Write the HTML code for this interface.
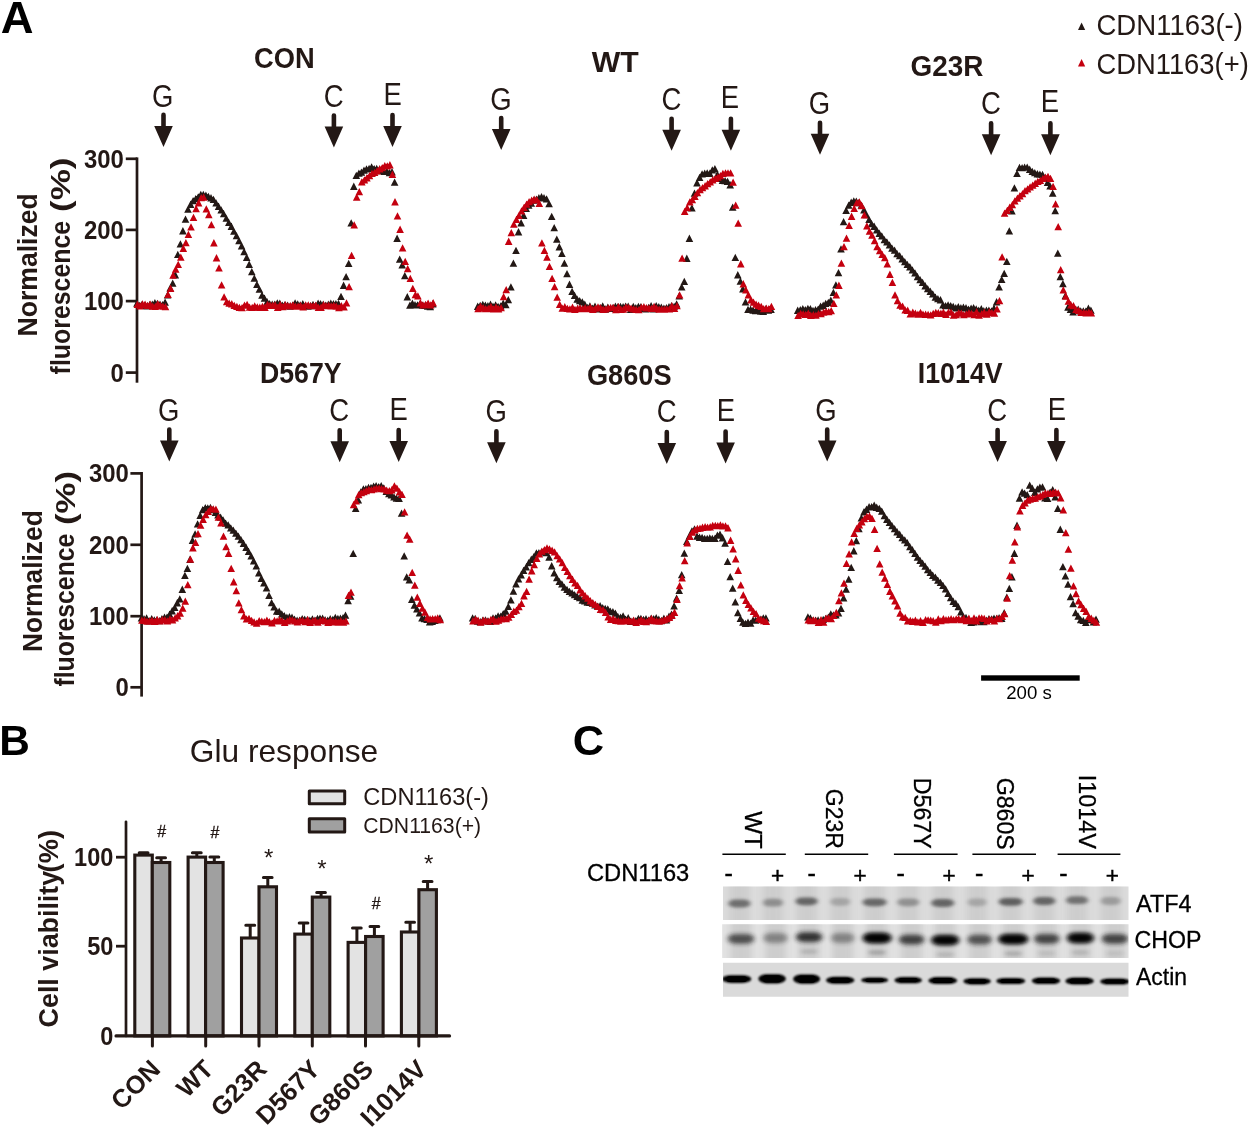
<!DOCTYPE html>
<html lang="en"><head><meta charset="utf-8"><title>Figure</title>
<style>html,body{margin:0;padding:0;background:#fff}svg{display:block}text{font-family:"Liberation Sans",Arial,Helvetica,sans-serif}</style></head><body>
<svg width="1250" height="1128" viewBox="0 0 1250 1128" fill="#231815">
<!-- figure -->
<rect width="1250" height="1128" fill="#fff"/>
<text x="0.8" y="33.3" font-size="44.5" font-weight="bold" textLength="32.8" lengthAdjust="spacingAndGlyphs" fill="#000">A</text>
<text x="-0.8" y="754.8" font-size="43" font-weight="bold" textLength="30.6" lengthAdjust="spacingAndGlyphs" fill="#000">B</text>
<text x="572.8" y="754.6" font-size="43" font-weight="bold" textLength="31.4" lengthAdjust="spacingAndGlyphs" fill="#000">C</text>
<g id="panelA">
<path d="M137 157.4V382.7" stroke="#231815" stroke-width="2.7" fill="none"/>
<path d="M125.8 158.8H137" stroke="#231815" stroke-width="2.7" fill="none"/>
<text x="123.9" y="167.7" font-size="26" font-weight="bold" text-anchor="end" textLength="39.9" lengthAdjust="spacingAndGlyphs">300</text>
<path d="M125.8 229.9H137" stroke="#231815" stroke-width="2.7" fill="none"/>
<text x="123.9" y="238.8" font-size="26" font-weight="bold" text-anchor="end" textLength="39.9" lengthAdjust="spacingAndGlyphs">200</text>
<path d="M125.8 301.1H137" stroke="#231815" stroke-width="2.7" fill="none"/>
<text x="123.9" y="310" font-size="26" font-weight="bold" text-anchor="end" textLength="39.9" lengthAdjust="spacingAndGlyphs">100</text>
<path d="M125.8 372.6H137" stroke="#231815" stroke-width="2.7" fill="none"/>
<text x="123.9" y="381.5" font-size="26" font-weight="bold" text-anchor="end" textLength="13.3" lengthAdjust="spacingAndGlyphs">0</text>
<path d="M141.6 472V696.6" stroke="#231815" stroke-width="2.7" fill="none"/>
<path d="M130.4 473.4H141.6" stroke="#231815" stroke-width="2.7" fill="none"/>
<text x="128.9" y="482.3" font-size="26" font-weight="bold" text-anchor="end" textLength="39.9" lengthAdjust="spacingAndGlyphs">300</text>
<path d="M130.4 544.8H141.6" stroke="#231815" stroke-width="2.7" fill="none"/>
<text x="128.9" y="553.7" font-size="26" font-weight="bold" text-anchor="end" textLength="39.9" lengthAdjust="spacingAndGlyphs">200</text>
<path d="M130.4 616.2H141.6" stroke="#231815" stroke-width="2.7" fill="none"/>
<text x="128.9" y="625.1" font-size="26" font-weight="bold" text-anchor="end" textLength="39.9" lengthAdjust="spacingAndGlyphs">100</text>
<path d="M130.4 687.3H141.6" stroke="#231815" stroke-width="2.7" fill="none"/>
<text x="128.9" y="696.2" font-size="26" font-weight="bold" text-anchor="end" textLength="13.3" lengthAdjust="spacingAndGlyphs">0</text>
<text x="37.2" y="264.9" font-size="27.5" font-weight="bold" text-anchor="middle" textLength="143.2" lengthAdjust="spacingAndGlyphs" transform="rotate(-90 37.2 264.9)">Normalized</text>
<text x="69.6" y="374.4" font-size="27.5" font-weight="bold" textLength="153.6" lengthAdjust="spacingAndGlyphs" transform="rotate(-90 69.6 374.4)">fluorescence</text>
<text x="69.6" y="212" font-size="27.5" font-weight="bold" textLength="54.5" lengthAdjust="spacingAndGlyphs" transform="rotate(-90 69.6 212)">(%)</text>
<text x="41.6" y="581.2" font-size="27.5" font-weight="bold" text-anchor="middle" textLength="141.8" lengthAdjust="spacingAndGlyphs" transform="rotate(-90 41.6 581.2)">Normalized</text>
<text x="74.5" y="686.6" font-size="27.5" font-weight="bold" textLength="153" lengthAdjust="spacingAndGlyphs" transform="rotate(-90 74.5 686.6)">fluorescence</text>
<text x="74.5" y="525" font-size="27.5" font-weight="bold" textLength="54" lengthAdjust="spacingAndGlyphs" transform="rotate(-90 74.5 525)">(%)</text>
<text x="284.4" y="68" font-size="29" font-weight="bold" text-anchor="middle" textLength="60.7" lengthAdjust="spacingAndGlyphs">CON</text>
<text x="615.2" y="71.6" font-size="29" font-weight="bold" text-anchor="middle" textLength="47" lengthAdjust="spacingAndGlyphs">WT</text>
<text x="947" y="76.2" font-size="29" font-weight="bold" text-anchor="middle" textLength="72.9" lengthAdjust="spacingAndGlyphs">G23R</text>
<text x="300.8" y="383" font-size="29" font-weight="bold" text-anchor="middle" textLength="81.6" lengthAdjust="spacingAndGlyphs">D567Y</text>
<text x="629.3" y="384.8" font-size="29" font-weight="bold" text-anchor="middle" textLength="84.7" lengthAdjust="spacingAndGlyphs">G860S</text>
<text x="960.2" y="383" font-size="29" font-weight="bold" text-anchor="middle" textLength="84.9" lengthAdjust="spacingAndGlyphs">I1014V</text>
<text x="162.8" y="106.6" font-size="30.5" text-anchor="middle" textLength="21.4" lengthAdjust="spacingAndGlyphs">G</text>
<path d="M161.2 114.9a2.3 2.3 0 0 1 4.6 0V125.9H172.8L163.5 146.9L154.2 125.9H161.2Z" fill="#231815"/>
<text x="333.8" y="106.6" font-size="30.5" text-anchor="middle" textLength="19.9" lengthAdjust="spacingAndGlyphs">C</text>
<path d="M331.6 115.6a2.3 2.3 0 0 1 4.6 0V126.6H343.2L333.9 147.6L324.6 126.6H331.6Z" fill="#231815"/>
<text x="392.6" y="104.5" font-size="30.5" text-anchor="middle" textLength="18.3" lengthAdjust="spacingAndGlyphs">E</text>
<path d="M390.2 115.1a2.3 2.3 0 0 1 4.6 0V126.1H401.8L392.5 147.1L383.2 126.1H390.2Z" fill="#231815"/>
<text x="501" y="109.6" font-size="30.5" text-anchor="middle" textLength="21.4" lengthAdjust="spacingAndGlyphs">G</text>
<path d="M498.9 118a2.3 2.3 0 0 1 4.6 0V129H510.5L501.2 150L491.9 129H498.9Z" fill="#231815"/>
<text x="671.4" y="109.6" font-size="30.5" text-anchor="middle" textLength="19.9" lengthAdjust="spacingAndGlyphs">C</text>
<path d="M669.3 118.7a2.3 2.3 0 0 1 4.6 0V129.7H680.9L671.6 150.7L662.3 129.7H669.3Z" fill="#231815"/>
<text x="729.9" y="107.9" font-size="30.5" text-anchor="middle" textLength="18.3" lengthAdjust="spacingAndGlyphs">E</text>
<path d="M728.6 118.7a2.3 2.3 0 0 1 4.6 0V129.7H740.2L730.9 150.7L721.6 129.7H728.6Z" fill="#231815"/>
<text x="819.4" y="113.8" font-size="30.5" text-anchor="middle" textLength="21.4" lengthAdjust="spacingAndGlyphs">G</text>
<path d="M817.7 122.8a2.3 2.3 0 0 1 4.6 0V133.8H829.3L820 154.8L810.7 133.8H817.7Z" fill="#231815"/>
<text x="991" y="113.8" font-size="30.5" text-anchor="middle" textLength="19.9" lengthAdjust="spacingAndGlyphs">C</text>
<path d="M988.8 123.3a2.3 2.3 0 0 1 4.6 0V134.3H1000.4L991.1 155.3L981.8 134.3H988.8Z" fill="#231815"/>
<text x="1049.8" y="112.2" font-size="30.5" text-anchor="middle" textLength="18.3" lengthAdjust="spacingAndGlyphs">E</text>
<path d="M1048.1 123.3a2.3 2.3 0 0 1 4.6 0V134.3H1059.7L1050.4 155.3L1041.1 134.3H1048.1Z" fill="#231815"/>
<text x="168.6" y="421.1" font-size="30.5" text-anchor="middle" textLength="21.4" lengthAdjust="spacingAndGlyphs">G</text>
<path d="M167 429.6a2.3 2.3 0 0 1 4.6 0V440.6H178.6L169.3 461.6L160 440.6H167Z" fill="#231815"/>
<text x="339.2" y="421.1" font-size="30.5" text-anchor="middle" textLength="19.9" lengthAdjust="spacingAndGlyphs">C</text>
<path d="M337.4 430.3a2.3 2.3 0 0 1 4.6 0V441.3H349L339.7 462.3L330.4 441.3H337.4Z" fill="#231815"/>
<text x="398.6" y="419.7" font-size="30.5" text-anchor="middle" textLength="18.3" lengthAdjust="spacingAndGlyphs">E</text>
<path d="M396.4 430.1a2.3 2.3 0 0 1 4.6 0V441.1H408L398.7 462.1L389.4 441.1H396.4Z" fill="#231815"/>
<text x="496.2" y="422.4" font-size="30.5" text-anchor="middle" textLength="21.4" lengthAdjust="spacingAndGlyphs">G</text>
<path d="M494.1 431.3a2.3 2.3 0 0 1 4.6 0V442.3H505.7L496.4 463.3L487.1 442.3H494.1Z" fill="#231815"/>
<text x="666.8" y="422.4" font-size="30.5" text-anchor="middle" textLength="19.9" lengthAdjust="spacingAndGlyphs">C</text>
<path d="M664.5 432a2.3 2.3 0 0 1 4.6 0V443H676.1L666.8 464L657.5 443H664.5Z" fill="#231815"/>
<text x="725.9" y="421.4" font-size="30.5" text-anchor="middle" textLength="18.3" lengthAdjust="spacingAndGlyphs">E</text>
<path d="M723.3 431.5a2.3 2.3 0 0 1 4.6 0V442.5H734.9L725.6 463.5L716.3 442.5H723.3Z" fill="#231815"/>
<text x="826" y="420.6" font-size="30.5" text-anchor="middle" textLength="21.4" lengthAdjust="spacingAndGlyphs">G</text>
<path d="M824.9 429.6a2.3 2.3 0 0 1 4.6 0V440.6H836.5L827.2 461.6L817.9 440.6H824.9Z" fill="#231815"/>
<text x="997.3" y="420.6" font-size="30.5" text-anchor="middle" textLength="19.9" lengthAdjust="spacingAndGlyphs">C</text>
<path d="M995.3 430.1a2.3 2.3 0 0 1 4.6 0V441.1H1006.9L997.6 462.1L988.3 441.1H995.3Z" fill="#231815"/>
<text x="1056.9" y="419.5" font-size="30.5" text-anchor="middle" textLength="18.3" lengthAdjust="spacingAndGlyphs">E</text>
<path d="M1054.1 430.1a2.3 2.3 0 0 1 4.6 0V441.1H1065.7L1056.4 462.1L1047.1 441.1H1054.1Z" fill="#231815"/>
<path d="M133.2 306.7h7.6l-3.8 -7.3zM135.8 309h7.6l-3.8 -7.3zM138.3 307.8h7.6l-3.8 -7.3zM140.9 308.7h7.6l-3.8 -7.3zM143.4 309.5h7.6l-3.8 -7.3zM146 308h7.6l-3.8 -7.3zM148.5 307.8h7.6l-3.8 -7.3zM151.1 306.3h7.6l-3.8 -7.3zM153.6 307h7.6l-3.8 -7.3zM156.2 307.7h7.6l-3.8 -7.3zM158.7 308.3h7.6l-3.8 -7.3zM161.3 305.7h7.6l-3.8 -7.3zM163.8 298.5h7.6l-3.8 -7.3zM166.4 291.6h7.6l-3.8 -7.3zM168.9 286.7h7.6l-3.8 -7.3zM171.5 278.4h7.6l-3.8 -7.3zM174 258.1h7.6l-3.8 -7.3zM176.6 247.5h7.6l-3.8 -7.3zM179.1 234.4h7.6l-3.8 -7.3zM181.7 222.7h7.6l-3.8 -7.3zM184.2 212.7h7.6l-3.8 -7.3zM186.8 207.9h7.6l-3.8 -7.3zM189.3 204.2h7.6l-3.8 -7.3zM191.9 202.3h7.6l-3.8 -7.3zM194.4 200.6h7.6l-3.8 -7.3zM197 198h7.6l-3.8 -7.3zM199.5 198h7.6l-3.8 -7.3zM202.1 198.9h7.6l-3.8 -7.3zM204.6 200h7.6l-3.8 -7.3zM207.2 201.4h7.6l-3.8 -7.3zM209.7 203.1h7.6l-3.8 -7.3zM212.3 206.5h7.6l-3.8 -7.3zM214.8 209.9h7.6l-3.8 -7.3zM217.4 213.6h7.6l-3.8 -7.3zM219.9 217.3h7.6l-3.8 -7.3zM222.5 221.8h7.6l-3.8 -7.3zM225 226h7.6l-3.8 -7.3zM227.6 229.9h7.6l-3.8 -7.3zM230.1 234.7h7.6l-3.8 -7.3zM232.7 239.2h7.6l-3.8 -7.3zM235.2 244.3h7.6l-3.8 -7.3zM237.8 249.4h7.6l-3.8 -7.3zM240.3 255.2h7.6l-3.8 -7.3zM242.9 260.9h7.6l-3.8 -7.3zM245.4 267.9h7.6l-3.8 -7.3zM248 275.3h7.6l-3.8 -7.3zM250.5 281.8h7.6l-3.8 -7.3zM253.1 288.1h7.6l-3.8 -7.3zM255.6 292.8h7.6l-3.8 -7.3zM258.2 298.8h7.6l-3.8 -7.3zM260.7 301.8h7.6l-3.8 -7.3zM263.3 305.2h7.6l-3.8 -7.3zM265.8 307.3h7.6l-3.8 -7.3zM268.4 307.8h7.6l-3.8 -7.3zM270.9 307.9h7.6l-3.8 -7.3zM273.5 306.5h7.6l-3.8 -7.3zM276 306.8h7.6l-3.8 -7.3zM278.6 308.9h7.6l-3.8 -7.3zM281.1 308.2h7.6l-3.8 -7.3zM283.7 308.8h7.6l-3.8 -7.3zM286.2 309.7h7.6l-3.8 -7.3zM288.8 308.8h7.6l-3.8 -7.3zM291.3 306.6h7.6l-3.8 -7.3zM293.9 307.5h7.6l-3.8 -7.3zM296.4 308.5h7.6l-3.8 -7.3zM299 307.2h7.6l-3.8 -7.3zM301.5 309.7h7.6l-3.8 -7.3zM304.1 309.7h7.6l-3.8 -7.3zM306.6 309.3h7.6l-3.8 -7.3zM309.2 308h7.6l-3.8 -7.3zM311.7 309.3h7.6l-3.8 -7.3zM314.3 306.8h7.6l-3.8 -7.3zM316.8 307.4h7.6l-3.8 -7.3zM319.4 307.9h7.6l-3.8 -7.3zM321.9 308.8h7.6l-3.8 -7.3zM324.5 307.9h7.6l-3.8 -7.3zM327 306.7h7.6l-3.8 -7.3zM329.6 307.3h7.6l-3.8 -7.3zM332.1 307.2h7.6l-3.8 -7.3zM334.7 307h7.6l-3.8 -7.3zM337.2 300h7.6l-3.8 -7.3zM339.8 288.9h7.6l-3.8 -7.3zM342.3 280.3h7.6l-3.8 -7.3zM344.9 267.1h7.6l-3.8 -7.3zM347.4 226.6h7.6l-3.8 -7.3zM350 189.9h7.6l-3.8 -7.3zM352.5 179h7.6l-3.8 -7.3zM355.1 176.8h7.6l-3.8 -7.3zM357.6 175.7h7.6l-3.8 -7.3zM360.2 173.8h7.6l-3.8 -7.3zM362.7 172.6h7.6l-3.8 -7.3zM365.3 172h7.6l-3.8 -7.3zM367.8 170.5h7.6l-3.8 -7.3zM370.4 172.2h7.6l-3.8 -7.3zM372.9 172h7.6l-3.8 -7.3zM375.5 173.2h7.6l-3.8 -7.3zM378 174.3h7.6l-3.8 -7.3zM380.6 175h7.6l-3.8 -7.3zM383.1 174.9h7.6l-3.8 -7.3zM385.7 176.3h7.6l-3.8 -7.3zM388.2 175.4h7.6l-3.8 -7.3zM390.8 185.7h7.6l-3.8 -7.3zM393.3 241.9h7.6l-3.8 -7.3zM395.9 262.7h7.6l-3.8 -7.3zM398.4 268.5h7.6l-3.8 -7.3zM401 279.3h7.6l-3.8 -7.3zM403.5 300.4h7.6l-3.8 -7.3zM406.1 308.7h7.6l-3.8 -7.3zM408.6 306.8h7.6l-3.8 -7.3zM411.2 308.4h7.6l-3.8 -7.3zM413.7 308.5h7.6l-3.8 -7.3zM416.3 307.1h7.6l-3.8 -7.3zM418.8 308.8h7.6l-3.8 -7.3zM421.4 309h7.6l-3.8 -7.3zM423.9 309.8h7.6l-3.8 -7.3zM426.5 310.2h7.6l-3.8 -7.3zM429 307.4h7.6l-3.8 -7.3z" fill="#231815"/>
<path d="M133.6 307.9h7.6l-3.8 -7.3zM136.2 309.4h7.6l-3.8 -7.3zM138.7 307.6h7.6l-3.8 -7.3zM141.3 307.9h7.6l-3.8 -7.3zM143.8 309.1h7.6l-3.8 -7.3zM146.4 307.7h7.6l-3.8 -7.3zM148.9 309.8h7.6l-3.8 -7.3zM151.5 310.1h7.6l-3.8 -7.3zM154 307.2h7.6l-3.8 -7.3zM156.6 308.9h7.6l-3.8 -7.3zM159.1 309.7h7.6l-3.8 -7.3zM161.7 310.3h7.6l-3.8 -7.3zM164.2 298.1h7.6l-3.8 -7.3zM166.8 291.9h7.6l-3.8 -7.3zM169.3 278.8h7.6l-3.8 -7.3zM171.9 272.7h7.6l-3.8 -7.3zM174.4 268.1h7.6l-3.8 -7.3zM177 260.8h7.6l-3.8 -7.3zM179.5 251.9h7.6l-3.8 -7.3zM182.1 246.3h7.6l-3.8 -7.3zM184.6 238h7.6l-3.8 -7.3zM187.2 230.6h7.6l-3.8 -7.3zM189.7 221h7.6l-3.8 -7.3zM192.3 212.2h7.6l-3.8 -7.3zM194.8 206.4h7.6l-3.8 -7.3zM197.4 201.3h7.6l-3.8 -7.3zM199.9 200.8h7.6l-3.8 -7.3zM202.5 212.6h7.6l-3.8 -7.3zM205 218.2h7.6l-3.8 -7.3zM207.6 228.3h7.6l-3.8 -7.3zM210.1 246.4h7.6l-3.8 -7.3zM212.7 261.4h7.6l-3.8 -7.3zM215.2 271.6h7.6l-3.8 -7.3zM217.8 288.6h7.6l-3.8 -7.3zM220.3 300.6h7.6l-3.8 -7.3zM222.9 305.2h7.6l-3.8 -7.3zM225.4 306.8h7.6l-3.8 -7.3zM228 307.4h7.6l-3.8 -7.3zM230.5 309h7.6l-3.8 -7.3zM233.1 310h7.6l-3.8 -7.3zM235.6 311.1h7.6l-3.8 -7.3zM238.2 311.3h7.6l-3.8 -7.3zM240.7 308.8h7.6l-3.8 -7.3zM243.3 308h7.6l-3.8 -7.3zM245.8 310.8h7.6l-3.8 -7.3zM248.4 311.1h7.6l-3.8 -7.3zM250.9 309.5h7.6l-3.8 -7.3zM253.5 310.6h7.6l-3.8 -7.3zM256 310.9h7.6l-3.8 -7.3zM258.6 310h7.6l-3.8 -7.3zM261.1 310.9h7.6l-3.8 -7.3zM263.7 308h7.6l-3.8 -7.3zM266.2 308.9h7.6l-3.8 -7.3zM268.8 308.9h7.6l-3.8 -7.3zM271.3 308.4h7.6l-3.8 -7.3zM273.9 311h7.6l-3.8 -7.3zM276.4 308.1h7.6l-3.8 -7.3zM279 310.2h7.6l-3.8 -7.3zM281.5 308.2h7.6l-3.8 -7.3zM284.1 309.2h7.6l-3.8 -7.3zM286.6 309.4h7.6l-3.8 -7.3zM289.2 308.6h7.6l-3.8 -7.3zM291.7 309.7h7.6l-3.8 -7.3zM294.3 309.8h7.6l-3.8 -7.3zM296.8 309h7.6l-3.8 -7.3zM299.4 310.5h7.6l-3.8 -7.3zM301.9 308.5h7.6l-3.8 -7.3zM304.5 308.6h7.6l-3.8 -7.3zM307 309.2h7.6l-3.8 -7.3zM309.6 309.3h7.6l-3.8 -7.3zM312.1 308.7h7.6l-3.8 -7.3zM314.7 311.1h7.6l-3.8 -7.3zM317.2 310.9h7.6l-3.8 -7.3zM319.8 308.4h7.6l-3.8 -7.3zM322.3 309.3h7.6l-3.8 -7.3zM324.9 308.9h7.6l-3.8 -7.3zM327.4 309.6h7.6l-3.8 -7.3zM330 309.1h7.6l-3.8 -7.3zM332.5 309.8h7.6l-3.8 -7.3zM335.1 311.3h7.6l-3.8 -7.3zM337.6 309.4h7.6l-3.8 -7.3zM340.2 310.4h7.6l-3.8 -7.3zM342.7 306.5h7.6l-3.8 -7.3zM345.3 290.3h7.6l-3.8 -7.3zM347.8 259h7.6l-3.8 -7.3zM350.4 228.5h7.6l-3.8 -7.3zM352.9 200.8h7.6l-3.8 -7.3zM355.5 195.3h7.6l-3.8 -7.3zM358 185.5h7.6l-3.8 -7.3zM360.6 183.5h7.6l-3.8 -7.3zM363.1 181.4h7.6l-3.8 -7.3zM365.7 179.3h7.6l-3.8 -7.3zM368.2 177h7.6l-3.8 -7.3zM370.8 176.1h7.6l-3.8 -7.3zM373.3 174.4h7.6l-3.8 -7.3zM375.9 172.4h7.6l-3.8 -7.3zM378.4 171.3h7.6l-3.8 -7.3zM381 169.2h7.6l-3.8 -7.3zM383.5 169.5h7.6l-3.8 -7.3zM386.1 168.4h7.6l-3.8 -7.3zM388.6 177.9h7.6l-3.8 -7.3zM391.2 205.4h7.6l-3.8 -7.3zM393.7 219.6h7.6l-3.8 -7.3zM396.3 232.9h7.6l-3.8 -7.3zM398.8 251.6h7.6l-3.8 -7.3zM401.4 265h7.6l-3.8 -7.3zM403.9 272.3h7.6l-3.8 -7.3zM406.5 282h7.6l-3.8 -7.3zM409 292.1h7.6l-3.8 -7.3zM411.6 298.3h7.6l-3.8 -7.3zM414.1 299.6h7.6l-3.8 -7.3zM416.7 306.6h7.6l-3.8 -7.3zM419.2 308.6h7.6l-3.8 -7.3zM421.8 308h7.6l-3.8 -7.3zM424.3 306.7h7.6l-3.8 -7.3zM426.9 308.6h7.6l-3.8 -7.3zM429.4 306.4h7.6l-3.8 -7.3z" fill="#c4000f"/>
<path d="M473.9 309.9h7.6l-3.8 -7.3zM476.4 309h7.6l-3.8 -7.3zM479 308h7.6l-3.8 -7.3zM481.6 308.8h7.6l-3.8 -7.3zM484.1 309.2h7.6l-3.8 -7.3zM486.7 307.9h7.6l-3.8 -7.3zM489.2 309.9h7.6l-3.8 -7.3zM491.8 308.5h7.6l-3.8 -7.3zM494.3 310h7.6l-3.8 -7.3zM496.9 309.6h7.6l-3.8 -7.3zM499.4 306.8h7.6l-3.8 -7.3zM502 308.2h7.6l-3.8 -7.3zM504.5 303.3h7.6l-3.8 -7.3zM507.1 290.5h7.6l-3.8 -7.3zM509.6 266.7h7.6l-3.8 -7.3zM512.2 254h7.6l-3.8 -7.3zM514.7 235.4h7.6l-3.8 -7.3zM517.3 226.4h7.6l-3.8 -7.3zM519.8 218.9h7.6l-3.8 -7.3zM522.4 212h7.6l-3.8 -7.3zM524.9 208.7h7.6l-3.8 -7.3zM527.5 206.7h7.6l-3.8 -7.3zM530 203.7h7.6l-3.8 -7.3zM532.6 202.7h7.6l-3.8 -7.3zM535.1 201.3h7.6l-3.8 -7.3zM537.7 200.3h7.6l-3.8 -7.3zM540.2 201.4h7.6l-3.8 -7.3zM542.8 202.6h7.6l-3.8 -7.3zM545.3 207.3h7.6l-3.8 -7.3zM547.9 220h7.6l-3.8 -7.3zM550.4 231.2h7.6l-3.8 -7.3zM553 242.8h7.6l-3.8 -7.3zM555.5 250.4h7.6l-3.8 -7.3zM558.1 257.1h7.6l-3.8 -7.3zM560.6 266.8h7.6l-3.8 -7.3zM563.2 277.3h7.6l-3.8 -7.3zM565.7 287.9h7.6l-3.8 -7.3zM568.3 295h7.6l-3.8 -7.3zM570.8 299.1h7.6l-3.8 -7.3zM573.4 302.7h7.6l-3.8 -7.3zM575.9 304.3h7.6l-3.8 -7.3zM578.5 305.6h7.6l-3.8 -7.3zM581 307.9h7.6l-3.8 -7.3zM583.6 311.1h7.6l-3.8 -7.3zM586.1 309.5h7.6l-3.8 -7.3zM588.7 311.9h7.6l-3.8 -7.3zM591.2 309.8h7.6l-3.8 -7.3zM593.8 312.6h7.6l-3.8 -7.3zM596.3 311.2h7.6l-3.8 -7.3zM598.9 309.6h7.6l-3.8 -7.3zM601.4 312.7h7.6l-3.8 -7.3zM604 310.8h7.6l-3.8 -7.3zM606.5 312.1h7.6l-3.8 -7.3zM609.1 311.4h7.6l-3.8 -7.3zM611.6 309.9h7.6l-3.8 -7.3zM614.2 310h7.6l-3.8 -7.3zM616.7 310.1h7.6l-3.8 -7.3zM619.3 310.2h7.6l-3.8 -7.3zM621.8 309.8h7.6l-3.8 -7.3zM624.4 309.8h7.6l-3.8 -7.3zM626.9 312.9h7.6l-3.8 -7.3zM629.5 310h7.6l-3.8 -7.3zM632 311.3h7.6l-3.8 -7.3zM634.6 310h7.6l-3.8 -7.3zM637.1 310.3h7.6l-3.8 -7.3zM639.7 312.1h7.6l-3.8 -7.3zM642.2 312.6h7.6l-3.8 -7.3zM644.8 311h7.6l-3.8 -7.3zM647.3 309.3h7.6l-3.8 -7.3zM649.9 312.6h7.6l-3.8 -7.3zM652.4 309.3h7.6l-3.8 -7.3zM655 310.3h7.6l-3.8 -7.3zM657.5 310.7h7.6l-3.8 -7.3zM660.1 311.8h7.6l-3.8 -7.3zM662.6 311.4h7.6l-3.8 -7.3zM665.2 310.3h7.6l-3.8 -7.3zM667.7 309.2h7.6l-3.8 -7.3zM670.3 310.1h7.6l-3.8 -7.3zM672.8 307.5h7.6l-3.8 -7.3zM675.4 299.6h7.6l-3.8 -7.3zM677.9 290.6h7.6l-3.8 -7.3zM680.5 285h7.6l-3.8 -7.3zM683 261.9h7.6l-3.8 -7.3zM685.6 241.9h7.6l-3.8 -7.3zM688.1 211.6h7.6l-3.8 -7.3zM690.7 196.7h7.6l-3.8 -7.3zM693.2 186.4h7.6l-3.8 -7.3zM695.8 181h7.6l-3.8 -7.3zM698.3 177.5h7.6l-3.8 -7.3zM700.9 176.9h7.6l-3.8 -7.3zM703.4 176.5h7.6l-3.8 -7.3zM706 176.9h7.6l-3.8 -7.3zM708.5 173.6h7.6l-3.8 -7.3zM711.1 172.2h7.6l-3.8 -7.3zM713.6 178.1h7.6l-3.8 -7.3zM716.2 182.1h7.6l-3.8 -7.3zM718.7 183.9h7.6l-3.8 -7.3zM721.3 184.2h7.6l-3.8 -7.3zM723.8 185.1h7.6l-3.8 -7.3zM726.4 188.4h7.6l-3.8 -7.3zM728.9 210.7h7.6l-3.8 -7.3zM731.5 261.1h7.6l-3.8 -7.3zM734 278.4h7.6l-3.8 -7.3zM736.6 284.8h7.6l-3.8 -7.3zM739.1 292.4h7.6l-3.8 -7.3zM741.7 305.6h7.6l-3.8 -7.3zM744.2 313.1h7.6l-3.8 -7.3zM746.8 312.9h7.6l-3.8 -7.3zM749.3 313.8h7.6l-3.8 -7.3zM751.9 314.2h7.6l-3.8 -7.3zM754.4 312.1h7.6l-3.8 -7.3zM757 314.7h7.6l-3.8 -7.3zM759.5 315h7.6l-3.8 -7.3zM762.1 312.4h7.6l-3.8 -7.3zM764.6 313.8h7.6l-3.8 -7.3zM767.2 312.9h7.6l-3.8 -7.3z" fill="#231815"/>
<path d="M474.3 312.2h7.6l-3.8 -7.3zM476.8 309.7h7.6l-3.8 -7.3zM479.4 311.4h7.6l-3.8 -7.3zM481.9 312.3h7.6l-3.8 -7.3zM484.5 312.1h7.6l-3.8 -7.3zM487.1 310h7.6l-3.8 -7.3zM489.6 312.5h7.6l-3.8 -7.3zM492.2 310.5h7.6l-3.8 -7.3zM494.7 312.4h7.6l-3.8 -7.3zM497.3 311.3h7.6l-3.8 -7.3zM499.8 300.3h7.6l-3.8 -7.3zM502.4 293.2h7.6l-3.8 -7.3zM504.9 244.9h7.6l-3.8 -7.3zM507.5 236.3h7.6l-3.8 -7.3zM510 227.8h7.6l-3.8 -7.3zM512.6 223h7.6l-3.8 -7.3zM515.1 219h7.6l-3.8 -7.3zM517.7 214.6h7.6l-3.8 -7.3zM520.2 211h7.6l-3.8 -7.3zM522.8 207.7h7.6l-3.8 -7.3zM525.3 205.3h7.6l-3.8 -7.3zM527.9 203.7h7.6l-3.8 -7.3zM530.4 202.7h7.6l-3.8 -7.3zM533 203.3h7.6l-3.8 -7.3zM535.5 206.9h7.6l-3.8 -7.3zM538.1 246.6h7.6l-3.8 -7.3zM540.6 254.1h7.6l-3.8 -7.3zM543.2 260.7h7.6l-3.8 -7.3zM545.7 270.1h7.6l-3.8 -7.3zM548.3 282h7.6l-3.8 -7.3zM550.8 290.2h7.6l-3.8 -7.3zM553.4 300.7h7.6l-3.8 -7.3zM555.9 308.1h7.6l-3.8 -7.3zM558.5 311.7h7.6l-3.8 -7.3zM561 310.4h7.6l-3.8 -7.3zM563.6 312h7.6l-3.8 -7.3zM566.1 312.5h7.6l-3.8 -7.3zM568.7 310.9h7.6l-3.8 -7.3zM571.2 313.1h7.6l-3.8 -7.3zM573.8 311.9h7.6l-3.8 -7.3zM576.3 311.5h7.6l-3.8 -7.3zM578.9 312.2h7.6l-3.8 -7.3zM581.4 311.2h7.6l-3.8 -7.3zM584 312.2h7.6l-3.8 -7.3zM586.5 310.7h7.6l-3.8 -7.3zM589.1 313h7.6l-3.8 -7.3zM591.6 311.7h7.6l-3.8 -7.3zM594.2 310.6h7.6l-3.8 -7.3zM596.7 311.3h7.6l-3.8 -7.3zM599.3 312.9h7.6l-3.8 -7.3zM601.8 312.6h7.6l-3.8 -7.3zM604.4 311.5h7.6l-3.8 -7.3zM606.9 311h7.6l-3.8 -7.3zM609.5 311.1h7.6l-3.8 -7.3zM612 313.2h7.6l-3.8 -7.3zM614.6 310.2h7.6l-3.8 -7.3zM617.1 312.9h7.6l-3.8 -7.3zM619.7 312.8h7.6l-3.8 -7.3zM622.2 310.6h7.6l-3.8 -7.3zM624.8 311h7.6l-3.8 -7.3zM627.3 311.8h7.6l-3.8 -7.3zM629.9 312.6h7.6l-3.8 -7.3zM632.4 313.1h7.6l-3.8 -7.3zM635 313.2h7.6l-3.8 -7.3zM637.5 310.8h7.6l-3.8 -7.3zM640.1 310.4h7.6l-3.8 -7.3zM642.6 311.4h7.6l-3.8 -7.3zM645.2 311.6h7.6l-3.8 -7.3zM647.7 312h7.6l-3.8 -7.3zM650.3 310.1h7.6l-3.8 -7.3zM652.8 311.9h7.6l-3.8 -7.3zM655.4 312.8h7.6l-3.8 -7.3zM657.9 312.7h7.6l-3.8 -7.3zM660.5 312.8h7.6l-3.8 -7.3zM663 312.6h7.6l-3.8 -7.3zM665.6 312.6h7.6l-3.8 -7.3zM668.1 309.3h7.6l-3.8 -7.3zM670.7 312h7.6l-3.8 -7.3zM673.2 309.3h7.6l-3.8 -7.3zM675.8 298.5h7.6l-3.8 -7.3zM678.3 261.8h7.6l-3.8 -7.3zM680.9 215h7.6l-3.8 -7.3zM683.4 211.2h7.6l-3.8 -7.3zM686 205.6h7.6l-3.8 -7.3zM688.5 203.3h7.6l-3.8 -7.3zM691.1 200.1h7.6l-3.8 -7.3zM693.6 196.3h7.6l-3.8 -7.3zM696.2 193.3h7.6l-3.8 -7.3zM698.7 191.3h7.6l-3.8 -7.3zM701.3 189.4h7.6l-3.8 -7.3zM703.8 187.2h7.6l-3.8 -7.3zM706.4 185.6h7.6l-3.8 -7.3zM708.9 183.4h7.6l-3.8 -7.3zM711.5 182h7.6l-3.8 -7.3zM714 180.7h7.6l-3.8 -7.3zM716.6 179.2h7.6l-3.8 -7.3zM719.1 177h7.6l-3.8 -7.3zM721.7 176.6h7.6l-3.8 -7.3zM724.2 176.5h7.6l-3.8 -7.3zM726.8 176.6h7.6l-3.8 -7.3zM729.3 185.8h7.6l-3.8 -7.3zM731.9 208.8h7.6l-3.8 -7.3zM734.4 226.7h7.6l-3.8 -7.3zM737 267.4h7.6l-3.8 -7.3zM739.5 287.4h7.6l-3.8 -7.3zM742.1 293.6h7.6l-3.8 -7.3zM744.6 298.4h7.6l-3.8 -7.3zM747.2 303.4h7.6l-3.8 -7.3zM749.7 305.7h7.6l-3.8 -7.3zM752.3 307.8h7.6l-3.8 -7.3zM754.8 308.9h7.6l-3.8 -7.3zM757.4 310h7.6l-3.8 -7.3zM759.9 312.2h7.6l-3.8 -7.3zM762.5 311.9h7.6l-3.8 -7.3zM765 312.3h7.6l-3.8 -7.3zM767.6 310.1h7.6l-3.8 -7.3z" fill="#c4000f"/>
<path d="M793.9 313.9h7.6l-3.8 -7.3zM796.5 313.4h7.6l-3.8 -7.3zM799 312.3h7.6l-3.8 -7.3zM801.5 313.3h7.6l-3.8 -7.3zM804.1 312h7.6l-3.8 -7.3zM806.6 312.3h7.6l-3.8 -7.3zM809.2 314h7.6l-3.8 -7.3zM811.7 313.3h7.6l-3.8 -7.3zM814.3 312.8h7.6l-3.8 -7.3zM816.8 309.8h7.6l-3.8 -7.3zM819.4 308.9h7.6l-3.8 -7.3zM821.9 307.1h7.6l-3.8 -7.3zM824.5 306.1h7.6l-3.8 -7.3zM827 303.8h7.6l-3.8 -7.3zM829.6 296.1h7.6l-3.8 -7.3zM832.1 288.5h7.6l-3.8 -7.3zM834.7 276.3h7.6l-3.8 -7.3zM837.2 252.6h7.6l-3.8 -7.3zM839.8 225.3h7.6l-3.8 -7.3zM842.3 214.1h7.6l-3.8 -7.3zM844.9 208.7h7.6l-3.8 -7.3zM847.4 205.9h7.6l-3.8 -7.3zM850 204.5h7.6l-3.8 -7.3zM852.5 204.7h7.6l-3.8 -7.3zM855.1 206.2h7.6l-3.8 -7.3zM857.6 208.7h7.6l-3.8 -7.3zM860.2 213.4h7.6l-3.8 -7.3zM862.7 218.3h7.6l-3.8 -7.3zM865.3 223h7.6l-3.8 -7.3zM867.8 227.2h7.6l-3.8 -7.3zM870.4 229.9h7.6l-3.8 -7.3zM872.9 233.6h7.6l-3.8 -7.3zM875.5 236.9h7.6l-3.8 -7.3zM878 239.6h7.6l-3.8 -7.3zM880.6 243.2h7.6l-3.8 -7.3zM883.1 245.6h7.6l-3.8 -7.3zM885.7 248.5h7.6l-3.8 -7.3zM888.2 251.8h7.6l-3.8 -7.3zM890.8 253.7h7.6l-3.8 -7.3zM893.3 257.3h7.6l-3.8 -7.3zM895.9 259.3h7.6l-3.8 -7.3zM898.4 262.4h7.6l-3.8 -7.3zM901 265.3h7.6l-3.8 -7.3zM903.5 268h7.6l-3.8 -7.3zM906.1 270.4h7.6l-3.8 -7.3zM908.6 273.5h7.6l-3.8 -7.3zM911.2 276.6h7.6l-3.8 -7.3zM913.7 280.2h7.6l-3.8 -7.3zM916.3 283.3h7.6l-3.8 -7.3zM918.8 286h7.6l-3.8 -7.3zM921.4 289.4h7.6l-3.8 -7.3zM923.9 292.3h7.6l-3.8 -7.3zM926.5 294.9h7.6l-3.8 -7.3zM929 297.6h7.6l-3.8 -7.3zM931.6 300.7h7.6l-3.8 -7.3zM934.1 302.3h7.6l-3.8 -7.3zM936.7 303.4h7.6l-3.8 -7.3zM939.2 308.4h7.6l-3.8 -7.3zM941.8 309.2h7.6l-3.8 -7.3zM944.3 308.5h7.6l-3.8 -7.3zM946.9 309.3h7.6l-3.8 -7.3zM949.4 310h7.6l-3.8 -7.3zM952 311.4h7.6l-3.8 -7.3zM954.5 310.4h7.6l-3.8 -7.3zM957.1 311.4h7.6l-3.8 -7.3zM959.6 310.8h7.6l-3.8 -7.3zM962.2 311.4h7.6l-3.8 -7.3zM964.7 312.7h7.6l-3.8 -7.3zM967.3 311.8h7.6l-3.8 -7.3zM969.8 311.3h7.6l-3.8 -7.3zM972.4 312.5h7.6l-3.8 -7.3zM974.9 313.9h7.6l-3.8 -7.3zM977.5 312.4h7.6l-3.8 -7.3zM980 314.4h7.6l-3.8 -7.3zM982.6 313.8h7.6l-3.8 -7.3zM985.1 313.7h7.6l-3.8 -7.3zM987.7 314.5h7.6l-3.8 -7.3zM990.2 311.7h7.6l-3.8 -7.3zM992.8 305.4h7.6l-3.8 -7.3zM995.3 290.6h7.6l-3.8 -7.3zM997.9 283h7.6l-3.8 -7.3zM1000.4 277h7.6l-3.8 -7.3zM1003 265.1h7.6l-3.8 -7.3zM1005.5 234.5h7.6l-3.8 -7.3zM1008.1 214.5h7.6l-3.8 -7.3zM1010.6 191.5h7.6l-3.8 -7.3zM1013.2 177h7.6l-3.8 -7.3zM1015.7 171h7.6l-3.8 -7.3zM1018.3 171.2h7.6l-3.8 -7.3zM1020.8 170.8h7.6l-3.8 -7.3zM1023.4 170.8h7.6l-3.8 -7.3zM1025.9 172.9h7.6l-3.8 -7.3zM1028.5 175.1h7.6l-3.8 -7.3zM1031 176.3h7.6l-3.8 -7.3zM1033.6 177.4h7.6l-3.8 -7.3zM1036.1 177.8h7.6l-3.8 -7.3zM1038.7 178.1h7.6l-3.8 -7.3zM1041.2 181.8h7.6l-3.8 -7.3zM1043.8 185.9h7.6l-3.8 -7.3zM1046.3 189.5h7.6l-3.8 -7.3zM1048.9 196.8h7.6l-3.8 -7.3zM1051.4 214.3h7.6l-3.8 -7.3zM1054 256.8h7.6l-3.8 -7.3zM1056.5 280.3h7.6l-3.8 -7.3zM1059.1 287.2h7.6l-3.8 -7.3zM1061.6 299.3h7.6l-3.8 -7.3zM1064.2 310.8h7.6l-3.8 -7.3zM1066.7 313.1h7.6l-3.8 -7.3zM1069.3 315.4h7.6l-3.8 -7.3zM1071.8 313.5h7.6l-3.8 -7.3zM1074.4 312.7h7.6l-3.8 -7.3zM1076.9 314.5h7.6l-3.8 -7.3zM1079.5 314.5h7.6l-3.8 -7.3zM1082 314.8h7.6l-3.8 -7.3zM1084.6 311.9h7.6l-3.8 -7.3zM1087.1 313.8h7.6l-3.8 -7.3z" fill="#231815"/>
<path d="M794.3 319h7.6l-3.8 -7.3zM796.9 317.1h7.6l-3.8 -7.3zM799.4 317.6h7.6l-3.8 -7.3zM801.9 318.1h7.6l-3.8 -7.3zM804.5 316.8h7.6l-3.8 -7.3zM807 318.9h7.6l-3.8 -7.3zM809.6 318.2h7.6l-3.8 -7.3zM812.1 318.7h7.6l-3.8 -7.3zM814.7 317.2h7.6l-3.8 -7.3zM817.2 317.3h7.6l-3.8 -7.3zM819.8 315.7h7.6l-3.8 -7.3zM822.3 315.1h7.6l-3.8 -7.3zM824.9 315.3h7.6l-3.8 -7.3zM827.4 314.3h7.6l-3.8 -7.3zM830 307h7.6l-3.8 -7.3zM832.5 298.6h7.6l-3.8 -7.3zM835.1 288.9h7.6l-3.8 -7.3zM837.6 266.8h7.6l-3.8 -7.3zM840.2 250.3h7.6l-3.8 -7.3zM842.7 241.8h7.6l-3.8 -7.3zM845.3 229.1h7.6l-3.8 -7.3zM847.8 219.9h7.6l-3.8 -7.3zM850.4 212.1h7.6l-3.8 -7.3zM852.9 206.2h7.6l-3.8 -7.3zM855.5 205.6h7.6l-3.8 -7.3zM858 209.2h7.6l-3.8 -7.3zM860.6 218.5h7.6l-3.8 -7.3zM863.1 229.6h7.6l-3.8 -7.3zM865.7 234.8h7.6l-3.8 -7.3zM868.2 238.8h7.6l-3.8 -7.3zM870.8 244.2h7.6l-3.8 -7.3zM873.3 250.2h7.6l-3.8 -7.3zM875.9 254.2h7.6l-3.8 -7.3zM878.4 258.1h7.6l-3.8 -7.3zM881 261.2h7.6l-3.8 -7.3zM883.5 267.5h7.6l-3.8 -7.3zM886.1 277.9h7.6l-3.8 -7.3zM888.6 286.1h7.6l-3.8 -7.3zM891.2 298.6h7.6l-3.8 -7.3zM893.7 304.2h7.6l-3.8 -7.3zM896.3 308.8h7.6l-3.8 -7.3zM898.8 309.8h7.6l-3.8 -7.3zM901.4 313.6h7.6l-3.8 -7.3zM903.9 313.9h7.6l-3.8 -7.3zM906.5 317.5h7.6l-3.8 -7.3zM909 315.7h7.6l-3.8 -7.3zM911.6 316.7h7.6l-3.8 -7.3zM914.1 317.8h7.6l-3.8 -7.3zM916.7 316.1h7.6l-3.8 -7.3zM919.2 317.7h7.6l-3.8 -7.3zM921.8 317.9h7.6l-3.8 -7.3zM924.3 318h7.6l-3.8 -7.3zM926.9 318.5h7.6l-3.8 -7.3zM929.4 317h7.6l-3.8 -7.3zM932 316h7.6l-3.8 -7.3zM934.5 316.4h7.6l-3.8 -7.3zM937.1 316.9h7.6l-3.8 -7.3zM939.6 315.7h7.6l-3.8 -7.3zM942.2 318h7.6l-3.8 -7.3zM944.7 315.8h7.6l-3.8 -7.3zM947.3 315.7h7.6l-3.8 -7.3zM949.8 318.7h7.6l-3.8 -7.3zM952.4 318.3h7.6l-3.8 -7.3zM954.9 316.4h7.6l-3.8 -7.3zM957.5 316.7h7.6l-3.8 -7.3zM960 318.3h7.6l-3.8 -7.3zM962.6 317.6h7.6l-3.8 -7.3zM965.1 316.4h7.6l-3.8 -7.3zM967.7 317h7.6l-3.8 -7.3zM970.2 318.3h7.6l-3.8 -7.3zM972.8 315.4h7.6l-3.8 -7.3zM975.3 318.7h7.6l-3.8 -7.3zM977.9 317.2h7.6l-3.8 -7.3zM980.4 315.8h7.6l-3.8 -7.3zM983 317.8h7.6l-3.8 -7.3zM985.5 315.3h7.6l-3.8 -7.3zM988.1 316.3h7.6l-3.8 -7.3zM990.6 316.7h7.6l-3.8 -7.3zM993.2 312.6h7.6l-3.8 -7.3zM995.7 304.3h7.6l-3.8 -7.3zM998.3 260.5h7.6l-3.8 -7.3zM1000.8 216.8h7.6l-3.8 -7.3zM1003.4 214.1h7.6l-3.8 -7.3zM1005.9 210.9h7.6l-3.8 -7.3zM1008.5 208.2h7.6l-3.8 -7.3zM1011 204.5h7.6l-3.8 -7.3zM1013.6 201.7h7.6l-3.8 -7.3zM1016.1 199.4h7.6l-3.8 -7.3zM1018.7 197.2h7.6l-3.8 -7.3zM1021.2 194.3h7.6l-3.8 -7.3zM1023.8 192.5h7.6l-3.8 -7.3zM1026.3 190.6h7.6l-3.8 -7.3zM1028.9 188.7h7.6l-3.8 -7.3zM1031.4 186.9h7.6l-3.8 -7.3zM1034 185.1h7.6l-3.8 -7.3zM1036.5 184h7.6l-3.8 -7.3zM1039.1 182h7.6l-3.8 -7.3zM1041.6 180.8h7.6l-3.8 -7.3zM1044.2 180.1h7.6l-3.8 -7.3zM1046.7 182.1h7.6l-3.8 -7.3zM1049.3 190h7.6l-3.8 -7.3zM1051.8 207.5h7.6l-3.8 -7.3zM1054.4 230.3h7.6l-3.8 -7.3zM1056.9 273.3h7.6l-3.8 -7.3zM1059.5 293.5h7.6l-3.8 -7.3zM1062 299.7h7.6l-3.8 -7.3zM1064.6 304.8h7.6l-3.8 -7.3zM1067.1 308.4h7.6l-3.8 -7.3zM1069.7 309.2h7.6l-3.8 -7.3zM1072.2 313.1h7.6l-3.8 -7.3zM1074.8 313.9h7.6l-3.8 -7.3zM1077.3 316.1h7.6l-3.8 -7.3zM1079.9 316h7.6l-3.8 -7.3zM1082.4 316.6h7.6l-3.8 -7.3zM1085 315.8h7.6l-3.8 -7.3zM1087.5 316.6h7.6l-3.8 -7.3z" fill="#c4000f"/>
<path d="M137.7 621.5h7.6l-3.8 -7.3zM140.2 622.2h7.6l-3.8 -7.3zM142.8 621.6h7.6l-3.8 -7.3zM145.4 624.6h7.6l-3.8 -7.3zM147.9 622.2h7.6l-3.8 -7.3zM150.5 623.6h7.6l-3.8 -7.3zM153 623.5h7.6l-3.8 -7.3zM155.6 624.3h7.6l-3.8 -7.3zM158.1 622.3h7.6l-3.8 -7.3zM160.7 620.8h7.6l-3.8 -7.3zM163.2 620.7h7.6l-3.8 -7.3zM165.8 617.8h7.6l-3.8 -7.3zM168.3 614.4h7.6l-3.8 -7.3zM170.9 611.1h7.6l-3.8 -7.3zM173.4 606.4h7.6l-3.8 -7.3zM176 602.6h7.6l-3.8 -7.3zM178.5 592.9h7.6l-3.8 -7.3zM181.1 579.1h7.6l-3.8 -7.3zM183.6 572.1h7.6l-3.8 -7.3zM186.2 562.9h7.6l-3.8 -7.3zM188.7 543.9h7.6l-3.8 -7.3zM191.3 537.6h7.6l-3.8 -7.3zM193.8 527.6h7.6l-3.8 -7.3zM196.4 519.1h7.6l-3.8 -7.3zM198.9 513.2h7.6l-3.8 -7.3zM201.5 511.3h7.6l-3.8 -7.3zM204 511.5h7.6l-3.8 -7.3zM206.6 511h7.6l-3.8 -7.3zM209.1 513.3h7.6l-3.8 -7.3zM211.7 515.9h7.6l-3.8 -7.3zM214.2 518.5h7.6l-3.8 -7.3zM216.8 520.7h7.6l-3.8 -7.3zM219.3 523.6h7.6l-3.8 -7.3zM221.9 526.7h7.6l-3.8 -7.3zM224.4 528.5h7.6l-3.8 -7.3zM227 531.6h7.6l-3.8 -7.3zM229.5 533.7h7.6l-3.8 -7.3zM232.1 536.8h7.6l-3.8 -7.3zM234.6 539.8h7.6l-3.8 -7.3zM237.2 543.2h7.6l-3.8 -7.3zM239.7 546.9h7.6l-3.8 -7.3zM242.3 550.9h7.6l-3.8 -7.3zM244.8 555h7.6l-3.8 -7.3zM247.4 559.5h7.6l-3.8 -7.3zM249.9 564.4h7.6l-3.8 -7.3zM252.5 569.6h7.6l-3.8 -7.3zM255 576.5h7.6l-3.8 -7.3zM257.6 581.9h7.6l-3.8 -7.3zM260.1 586.6h7.6l-3.8 -7.3zM262.7 591.6h7.6l-3.8 -7.3zM265.2 599h7.6l-3.8 -7.3zM267.8 606.2h7.6l-3.8 -7.3zM270.3 610.5h7.6l-3.8 -7.3zM272.9 614.7h7.6l-3.8 -7.3zM275.4 614.9h7.6l-3.8 -7.3zM278 617.5h7.6l-3.8 -7.3zM280.5 619.3h7.6l-3.8 -7.3zM283.1 620.9h7.6l-3.8 -7.3zM285.6 620.4h7.6l-3.8 -7.3zM288.2 620.9h7.6l-3.8 -7.3zM290.7 622.9h7.6l-3.8 -7.3zM293.3 623.7h7.6l-3.8 -7.3zM295.8 623.7h7.6l-3.8 -7.3zM298.4 622.2h7.6l-3.8 -7.3zM300.9 622.9h7.6l-3.8 -7.3zM303.5 623.4h7.6l-3.8 -7.3zM306 623.9h7.6l-3.8 -7.3zM308.6 622.6h7.6l-3.8 -7.3zM311.1 623.9h7.6l-3.8 -7.3zM313.7 622h7.6l-3.8 -7.3zM316.2 621.7h7.6l-3.8 -7.3zM318.8 621.9h7.6l-3.8 -7.3zM321.3 623.4h7.6l-3.8 -7.3zM323.9 623.9h7.6l-3.8 -7.3zM326.4 622.4h7.6l-3.8 -7.3zM329 623.1h7.6l-3.8 -7.3zM331.5 621.1h7.6l-3.8 -7.3zM334.1 622.1h7.6l-3.8 -7.3zM336.6 621.7h7.6l-3.8 -7.3zM339.2 621.4h7.6l-3.8 -7.3zM341.7 618.8h7.6l-3.8 -7.3zM344.3 604.2h7.6l-3.8 -7.3zM346.8 599.8h7.6l-3.8 -7.3zM349.4 557.1h7.6l-3.8 -7.3zM351.9 512h7.6l-3.8 -7.3zM354.5 503.5h7.6l-3.8 -7.3zM357 495.6h7.6l-3.8 -7.3zM359.6 492.6h7.6l-3.8 -7.3zM362.1 492.2h7.6l-3.8 -7.3zM364.7 491h7.6l-3.8 -7.3zM367.2 491h7.6l-3.8 -7.3zM369.8 489.8h7.6l-3.8 -7.3zM372.3 489.2h7.6l-3.8 -7.3zM374.9 490.2h7.6l-3.8 -7.3zM377.4 489.3h7.6l-3.8 -7.3zM380 491.5h7.6l-3.8 -7.3zM382.5 495h7.6l-3.8 -7.3zM385.1 497.2h7.6l-3.8 -7.3zM387.6 498.6h7.6l-3.8 -7.3zM390.2 500.5h7.6l-3.8 -7.3zM392.7 501.8h7.6l-3.8 -7.3zM395.3 502h7.6l-3.8 -7.3zM397.8 516.7h7.6l-3.8 -7.3zM400.4 559.6h7.6l-3.8 -7.3zM402.9 580.6h7.6l-3.8 -7.3zM405.5 583.5h7.6l-3.8 -7.3zM408 602.9h7.6l-3.8 -7.3zM410.6 608.7h7.6l-3.8 -7.3zM413.1 612.4h7.6l-3.8 -7.3zM415.7 616.6h7.6l-3.8 -7.3zM418.2 621.5h7.6l-3.8 -7.3zM420.8 622.2h7.6l-3.8 -7.3zM423.3 623.1h7.6l-3.8 -7.3zM425.9 625.4h7.6l-3.8 -7.3zM428.4 625h7.6l-3.8 -7.3zM431 623.9h7.6l-3.8 -7.3zM433.5 623.3h7.6l-3.8 -7.3zM436.1 621.5h7.6l-3.8 -7.3z" fill="#231815"/>
<path d="M138.1 623.8h7.6l-3.8 -7.3zM140.7 623.9h7.6l-3.8 -7.3zM143.2 624.8h7.6l-3.8 -7.3zM145.8 624.6h7.6l-3.8 -7.3zM148.3 623.7h7.6l-3.8 -7.3zM150.9 625.1h7.6l-3.8 -7.3zM153.4 623h7.6l-3.8 -7.3zM156 624.6h7.6l-3.8 -7.3zM158.5 623.1h7.6l-3.8 -7.3zM161.1 623.4h7.6l-3.8 -7.3zM163.6 624.6h7.6l-3.8 -7.3zM166.2 622.6h7.6l-3.8 -7.3zM168.7 623.4h7.6l-3.8 -7.3zM171.3 621.6h7.6l-3.8 -7.3zM173.8 619.4h7.6l-3.8 -7.3zM176.4 616.8h7.6l-3.8 -7.3zM178.9 611.7h7.6l-3.8 -7.3zM181.5 604.7h7.6l-3.8 -7.3zM184 588.2h7.6l-3.8 -7.3zM186.6 562.8h7.6l-3.8 -7.3zM189.1 551.4h7.6l-3.8 -7.3zM191.7 546.1h7.6l-3.8 -7.3zM194.2 537.3h7.6l-3.8 -7.3zM196.8 528.8h7.6l-3.8 -7.3zM199.3 522.9h7.6l-3.8 -7.3zM201.9 518.3h7.6l-3.8 -7.3zM204.4 515.1h7.6l-3.8 -7.3zM207 512.2h7.6l-3.8 -7.3zM209.5 512.6h7.6l-3.8 -7.3zM212.1 512.8h7.6l-3.8 -7.3zM214.6 520.7h7.6l-3.8 -7.3zM217.2 526.4h7.6l-3.8 -7.3zM219.7 539.8h7.6l-3.8 -7.3zM222.3 550.3h7.6l-3.8 -7.3zM224.8 557.1h7.6l-3.8 -7.3zM227.4 572h7.6l-3.8 -7.3zM229.9 585.4h7.6l-3.8 -7.3zM232.5 594.2h7.6l-3.8 -7.3zM235 606.6h7.6l-3.8 -7.3zM237.6 613.3h7.6l-3.8 -7.3zM240.1 619.6h7.6l-3.8 -7.3zM242.7 622.6h7.6l-3.8 -7.3zM245.2 622.1h7.6l-3.8 -7.3zM247.8 624h7.6l-3.8 -7.3zM250.3 625.5h7.6l-3.8 -7.3zM252.9 626.7h7.6l-3.8 -7.3zM255.4 624.3h7.6l-3.8 -7.3zM258 624.7h7.6l-3.8 -7.3zM260.5 625.3h7.6l-3.8 -7.3zM263.1 623.8h7.6l-3.8 -7.3zM265.6 625.3h7.6l-3.8 -7.3zM268.2 626.5h7.6l-3.8 -7.3zM270.7 624h7.6l-3.8 -7.3zM273.3 624.6h7.6l-3.8 -7.3zM275.8 623.3h7.6l-3.8 -7.3zM278.4 624.6h7.6l-3.8 -7.3zM280.9 626h7.6l-3.8 -7.3zM283.5 624.5h7.6l-3.8 -7.3zM286 623.3h7.6l-3.8 -7.3zM288.6 623.6h7.6l-3.8 -7.3zM291.1 624.6h7.6l-3.8 -7.3zM293.7 625.4h7.6l-3.8 -7.3zM296.2 624h7.6l-3.8 -7.3zM298.8 624.1h7.6l-3.8 -7.3zM301.3 625.3h7.6l-3.8 -7.3zM303.9 623h7.6l-3.8 -7.3zM306.4 625.9h7.6l-3.8 -7.3zM309 624.4h7.6l-3.8 -7.3zM311.5 624.1h7.6l-3.8 -7.3zM314.1 625.7h7.6l-3.8 -7.3zM316.6 624.1h7.6l-3.8 -7.3zM319.2 623.9h7.6l-3.8 -7.3zM321.7 624.4h7.6l-3.8 -7.3zM324.3 625.9h7.6l-3.8 -7.3zM326.8 624.1h7.6l-3.8 -7.3zM329.4 625.4h7.6l-3.8 -7.3zM331.9 624.7h7.6l-3.8 -7.3zM334.5 625.8h7.6l-3.8 -7.3zM337 624.4h7.6l-3.8 -7.3zM339.6 625.8h7.6l-3.8 -7.3zM342.1 624.5h7.6l-3.8 -7.3zM344.7 599h7.6l-3.8 -7.3zM347.2 595.8h7.6l-3.8 -7.3zM349.8 508.3h7.6l-3.8 -7.3zM352.3 504.5h7.6l-3.8 -7.3zM354.9 498.3h7.6l-3.8 -7.3zM357.4 496.3h7.6l-3.8 -7.3zM360 495.2h7.6l-3.8 -7.3zM362.5 494.2h7.6l-3.8 -7.3zM365.1 493.1h7.6l-3.8 -7.3zM367.6 493.3h7.6l-3.8 -7.3zM370.2 492.6h7.6l-3.8 -7.3zM372.7 491.8h7.6l-3.8 -7.3zM375.3 491.8h7.6l-3.8 -7.3zM377.8 492.2h7.6l-3.8 -7.3zM380.4 492.6h7.6l-3.8 -7.3zM382.9 493.7h7.6l-3.8 -7.3zM385.5 494.2h7.6l-3.8 -7.3zM388 493.4h7.6l-3.8 -7.3zM390.6 489.6h7.6l-3.8 -7.3zM393.1 491.7h7.6l-3.8 -7.3zM395.7 495.4h7.6l-3.8 -7.3zM398.2 498h7.6l-3.8 -7.3zM400.8 515.5h7.6l-3.8 -7.3zM403.3 538.7h7.6l-3.8 -7.3zM405.9 542.7h7.6l-3.8 -7.3zM408.4 576.1h7.6l-3.8 -7.3zM411 588.8h7.6l-3.8 -7.3zM413.5 600.8h7.6l-3.8 -7.3zM416.1 606.9h7.6l-3.8 -7.3zM418.6 611.7h7.6l-3.8 -7.3zM421.2 615.8h7.6l-3.8 -7.3zM423.7 620.9h7.6l-3.8 -7.3zM426.3 622.6h7.6l-3.8 -7.3zM428.8 622.3h7.6l-3.8 -7.3zM431.4 622.4h7.6l-3.8 -7.3zM433.9 621.6h7.6l-3.8 -7.3zM436.5 623.2h7.6l-3.8 -7.3z" fill="#c4000f"/>
<path d="M468.8 621.6h7.6l-3.8 -7.3zM471.4 622h7.6l-3.8 -7.3zM473.9 624.8h7.6l-3.8 -7.3zM476.5 625.3h7.6l-3.8 -7.3zM479 623.7h7.6l-3.8 -7.3zM481.6 623.5h7.6l-3.8 -7.3zM484.1 624.6h7.6l-3.8 -7.3zM486.7 625h7.6l-3.8 -7.3zM489.2 621.6h7.6l-3.8 -7.3zM491.8 621.5h7.6l-3.8 -7.3zM494.3 619.5h7.6l-3.8 -7.3zM496.9 619.9h7.6l-3.8 -7.3zM499.4 617.3h7.6l-3.8 -7.3zM502 614.7h7.6l-3.8 -7.3zM504.5 610h7.6l-3.8 -7.3zM507.1 603.6h7.6l-3.8 -7.3zM509.6 594.8h7.6l-3.8 -7.3zM512.2 587.6h7.6l-3.8 -7.3zM514.7 582.6h7.6l-3.8 -7.3zM517.3 578.4h7.6l-3.8 -7.3zM519.8 574.1h7.6l-3.8 -7.3zM522.4 570.5h7.6l-3.8 -7.3zM524.9 566.2h7.6l-3.8 -7.3zM527.5 562.9h7.6l-3.8 -7.3zM530 560.2h7.6l-3.8 -7.3zM532.6 556.6h7.6l-3.8 -7.3zM535.1 556.4h7.6l-3.8 -7.3zM537.7 555.6h7.6l-3.8 -7.3zM540.2 555h7.6l-3.8 -7.3zM542.8 556.3h7.6l-3.8 -7.3zM545.3 560.8h7.6l-3.8 -7.3zM547.9 569.4h7.6l-3.8 -7.3zM550.4 576.5h7.6l-3.8 -7.3zM553 581.2h7.6l-3.8 -7.3zM555.5 585.1h7.6l-3.8 -7.3zM558.1 587.5h7.6l-3.8 -7.3zM560.6 590.7h7.6l-3.8 -7.3zM563.2 593.1h7.6l-3.8 -7.3zM565.7 595.1h7.6l-3.8 -7.3zM568.3 596.5h7.6l-3.8 -7.3zM570.8 598.3h7.6l-3.8 -7.3zM573.4 599.9h7.6l-3.8 -7.3zM575.9 601.2h7.6l-3.8 -7.3zM578.5 603.7h7.6l-3.8 -7.3zM581 604.4h7.6l-3.8 -7.3zM583.6 605.7h7.6l-3.8 -7.3zM586.1 605.9h7.6l-3.8 -7.3zM588.7 606.8h7.6l-3.8 -7.3zM591.2 608.6h7.6l-3.8 -7.3zM593.8 609.7h7.6l-3.8 -7.3zM596.3 609.2h7.6l-3.8 -7.3zM598.9 611.3h7.6l-3.8 -7.3zM601.4 612.1h7.6l-3.8 -7.3zM604 612.5h7.6l-3.8 -7.3zM606.5 614.8h7.6l-3.8 -7.3zM609.1 615.2h7.6l-3.8 -7.3zM611.6 616.8h7.6l-3.8 -7.3zM614.2 620.3h7.6l-3.8 -7.3zM616.7 620.9h7.6l-3.8 -7.3zM619.3 619.6h7.6l-3.8 -7.3zM621.8 622.7h7.6l-3.8 -7.3zM624.4 621.3h7.6l-3.8 -7.3zM626.9 624.9h7.6l-3.8 -7.3zM629.5 624.3h7.6l-3.8 -7.3zM632 624.3h7.6l-3.8 -7.3zM634.6 622h7.6l-3.8 -7.3zM637.1 622h7.6l-3.8 -7.3zM639.7 623.1h7.6l-3.8 -7.3zM642.2 622.4h7.6l-3.8 -7.3zM644.8 623.7h7.6l-3.8 -7.3zM647.3 621.9h7.6l-3.8 -7.3zM649.9 622.3h7.6l-3.8 -7.3zM652.4 621.4h7.6l-3.8 -7.3zM655 622.7h7.6l-3.8 -7.3zM657.5 624.2h7.6l-3.8 -7.3zM660.1 621.9h7.6l-3.8 -7.3zM662.6 623.6h7.6l-3.8 -7.3zM665.2 619.9h7.6l-3.8 -7.3zM667.7 617.8h7.6l-3.8 -7.3zM670.3 609.5h7.6l-3.8 -7.3zM672.8 601.7h7.6l-3.8 -7.3zM675.4 594.1h7.6l-3.8 -7.3zM677.9 578.2h7.6l-3.8 -7.3zM680.5 556.7h7.6l-3.8 -7.3zM683 545h7.6l-3.8 -7.3zM685.6 539.4h7.6l-3.8 -7.3zM688.1 534.5h7.6l-3.8 -7.3zM690.7 532.5h7.6l-3.8 -7.3zM693.2 539.8h7.6l-3.8 -7.3zM695.8 540.9h7.6l-3.8 -7.3zM698.3 541h7.6l-3.8 -7.3zM700.9 542.1h7.6l-3.8 -7.3zM703.4 542.1h7.6l-3.8 -7.3zM706 541.6h7.6l-3.8 -7.3zM708.5 542.1h7.6l-3.8 -7.3zM711.1 542.1h7.6l-3.8 -7.3zM713.6 538.8h7.6l-3.8 -7.3zM716.2 537.9h7.6l-3.8 -7.3zM718.7 541.4h7.6l-3.8 -7.3zM721.3 546.7h7.6l-3.8 -7.3zM723.8 565.1h7.6l-3.8 -7.3zM726.4 580.3h7.6l-3.8 -7.3zM728.9 591.7h7.6l-3.8 -7.3zM731.5 605.6h7.6l-3.8 -7.3zM734 616.2h7.6l-3.8 -7.3zM736.6 622.1h7.6l-3.8 -7.3zM739.1 625.7h7.6l-3.8 -7.3zM741.7 627h7.6l-3.8 -7.3zM744.2 625.7h7.6l-3.8 -7.3zM746.8 626.8h7.6l-3.8 -7.3zM749.3 623.6h7.6l-3.8 -7.3zM751.9 623.8h7.6l-3.8 -7.3zM754.4 622.7h7.6l-3.8 -7.3zM757 622.8h7.6l-3.8 -7.3zM759.5 621.6h7.6l-3.8 -7.3zM762.1 621.5h7.6l-3.8 -7.3z" fill="#231815"/>
<path d="M469.2 624.4h7.6l-3.8 -7.3zM471.8 622.7h7.6l-3.8 -7.3zM474.3 623.9h7.6l-3.8 -7.3zM476.9 625.7h7.6l-3.8 -7.3zM479.4 623.9h7.6l-3.8 -7.3zM482 624.2h7.6l-3.8 -7.3zM484.5 624.8h7.6l-3.8 -7.3zM487.1 623.1h7.6l-3.8 -7.3zM489.6 622.8h7.6l-3.8 -7.3zM492.2 624.8h7.6l-3.8 -7.3zM494.7 623.7h7.6l-3.8 -7.3zM497.3 622.5h7.6l-3.8 -7.3zM499.8 622.3h7.6l-3.8 -7.3zM502.4 622.2h7.6l-3.8 -7.3zM504.9 620.7h7.6l-3.8 -7.3zM507.5 618h7.6l-3.8 -7.3zM510 614.9h7.6l-3.8 -7.3zM512.6 613.7h7.6l-3.8 -7.3zM515.1 610.3h7.6l-3.8 -7.3zM517.7 607h7.6l-3.8 -7.3zM520.2 599.4h7.6l-3.8 -7.3zM522.8 595.1h7.6l-3.8 -7.3zM525.3 582.7h7.6l-3.8 -7.3zM527.9 574.4h7.6l-3.8 -7.3zM530.4 568.2h7.6l-3.8 -7.3zM533 562.1h7.6l-3.8 -7.3zM535.5 557.6h7.6l-3.8 -7.3zM538.1 554.7h7.6l-3.8 -7.3zM540.6 553.3h7.6l-3.8 -7.3zM543.2 551.6h7.6l-3.8 -7.3zM545.7 552.5h7.6l-3.8 -7.3zM548.3 553.9h7.6l-3.8 -7.3zM550.8 555.6h7.6l-3.8 -7.3zM553.4 559.3h7.6l-3.8 -7.3zM555.9 562.5h7.6l-3.8 -7.3zM558.5 566.2h7.6l-3.8 -7.3zM561 571.1h7.6l-3.8 -7.3zM563.6 575h7.6l-3.8 -7.3zM566.1 579.2h7.6l-3.8 -7.3zM568.7 582.9h7.6l-3.8 -7.3zM571.2 586.5h7.6l-3.8 -7.3zM573.8 589.1h7.6l-3.8 -7.3zM576.3 593.4h7.6l-3.8 -7.3zM578.9 596.6h7.6l-3.8 -7.3zM581.4 599.4h7.6l-3.8 -7.3zM584 601.7h7.6l-3.8 -7.3zM586.5 604.4h7.6l-3.8 -7.3zM589.1 606.4h7.6l-3.8 -7.3zM591.6 608.1h7.6l-3.8 -7.3zM594.2 610.1h7.6l-3.8 -7.3zM596.7 613h7.6l-3.8 -7.3zM599.3 613.3h7.6l-3.8 -7.3zM601.8 616.1h7.6l-3.8 -7.3zM604.4 620.4h7.6l-3.8 -7.3zM606.9 622.9h7.6l-3.8 -7.3zM609.5 622.3h7.6l-3.8 -7.3zM612 624.1h7.6l-3.8 -7.3zM614.6 624.2h7.6l-3.8 -7.3zM617.1 624.8h7.6l-3.8 -7.3zM619.7 624.5h7.6l-3.8 -7.3zM622.2 624.2h7.6l-3.8 -7.3zM624.8 624.1h7.6l-3.8 -7.3zM627.3 624.8h7.6l-3.8 -7.3zM629.9 623.9h7.6l-3.8 -7.3zM632.4 625.9h7.6l-3.8 -7.3zM635 624.5h7.6l-3.8 -7.3zM637.5 623.3h7.6l-3.8 -7.3zM640.1 624.9h7.6l-3.8 -7.3zM642.6 625.2h7.6l-3.8 -7.3zM645.2 623.5h7.6l-3.8 -7.3zM647.7 622.1h7.6l-3.8 -7.3zM650.3 624.2h7.6l-3.8 -7.3zM652.8 624.4h7.6l-3.8 -7.3zM655.4 624.7h7.6l-3.8 -7.3zM657.9 624h7.6l-3.8 -7.3zM660.5 623.3h7.6l-3.8 -7.3zM663 622.2h7.6l-3.8 -7.3zM665.6 621.1h7.6l-3.8 -7.3zM668.1 618.9h7.6l-3.8 -7.3zM670.7 615.9h7.6l-3.8 -7.3zM673.2 603h7.6l-3.8 -7.3zM675.8 589.3h7.6l-3.8 -7.3zM678.3 581.5h7.6l-3.8 -7.3zM680.9 564.3h7.6l-3.8 -7.3zM683.4 546.4h7.6l-3.8 -7.3zM686 539.9h7.6l-3.8 -7.3zM688.5 535.7h7.6l-3.8 -7.3zM691.1 533.5h7.6l-3.8 -7.3zM693.6 532h7.6l-3.8 -7.3zM696.2 531.7h7.6l-3.8 -7.3zM698.7 530.9h7.6l-3.8 -7.3zM701.3 530.4h7.6l-3.8 -7.3zM703.8 530.8h7.6l-3.8 -7.3zM706.4 530.4h7.6l-3.8 -7.3zM708.9 529.1h7.6l-3.8 -7.3zM711.5 529.1h7.6l-3.8 -7.3zM714 529.3h7.6l-3.8 -7.3zM716.6 528.6h7.6l-3.8 -7.3zM719.1 529.6h7.6l-3.8 -7.3zM721.7 529.6h7.6l-3.8 -7.3zM724.2 531.4h7.6l-3.8 -7.3zM726.8 543.9h7.6l-3.8 -7.3zM729.3 552.6h7.6l-3.8 -7.3zM731.9 562.4h7.6l-3.8 -7.3zM734.4 573.9h7.6l-3.8 -7.3zM737 588.5h7.6l-3.8 -7.3zM739.5 598.6h7.6l-3.8 -7.3zM742.1 603.9h7.6l-3.8 -7.3zM744.6 608h7.6l-3.8 -7.3zM747.2 611.5h7.6l-3.8 -7.3zM749.7 615.1h7.6l-3.8 -7.3zM752.3 617.2h7.6l-3.8 -7.3zM754.8 621.7h7.6l-3.8 -7.3zM757.4 623.1h7.6l-3.8 -7.3zM759.9 624.3h7.6l-3.8 -7.3zM762.5 625h7.6l-3.8 -7.3z" fill="#c4000f"/>
<path d="M804.1 620.5h7.6l-3.8 -7.3zM806.6 621.6h7.6l-3.8 -7.3zM809.2 624h7.6l-3.8 -7.3zM811.7 623.9h7.6l-3.8 -7.3zM814.3 623.6h7.6l-3.8 -7.3zM816.8 625h7.6l-3.8 -7.3zM819.4 623.1h7.6l-3.8 -7.3zM821.9 622h7.6l-3.8 -7.3zM824.5 620.8h7.6l-3.8 -7.3zM827 617.5h7.6l-3.8 -7.3zM829.6 618.5h7.6l-3.8 -7.3zM832.1 618.4h7.6l-3.8 -7.3zM834.7 616.6h7.6l-3.8 -7.3zM837.2 612h7.6l-3.8 -7.3zM839.8 601.5h7.6l-3.8 -7.3zM842.3 592.8h7.6l-3.8 -7.3zM844.9 582.7h7.6l-3.8 -7.3zM847.4 571h7.6l-3.8 -7.3zM850 554.4h7.6l-3.8 -7.3zM852.5 544.3h7.6l-3.8 -7.3zM855.1 532.2h7.6l-3.8 -7.3zM857.6 521.6h7.6l-3.8 -7.3zM860.2 515.4h7.6l-3.8 -7.3zM862.7 512.9h7.6l-3.8 -7.3zM865.3 510.4h7.6l-3.8 -7.3zM867.8 510.4h7.6l-3.8 -7.3zM870.4 508.8h7.6l-3.8 -7.3zM872.9 510.9h7.6l-3.8 -7.3zM875.5 512h7.6l-3.8 -7.3zM878 514.7h7.6l-3.8 -7.3zM880.6 519.3h7.6l-3.8 -7.3zM883.1 522.9h7.6l-3.8 -7.3zM885.7 526.1h7.6l-3.8 -7.3zM888.2 529.2h7.6l-3.8 -7.3zM890.8 532.3h7.6l-3.8 -7.3zM893.3 535.4h7.6l-3.8 -7.3zM895.9 537.9h7.6l-3.8 -7.3zM898.4 541.3h7.6l-3.8 -7.3zM901 543.5h7.6l-3.8 -7.3zM903.5 546.3h7.6l-3.8 -7.3zM906.1 550.3h7.6l-3.8 -7.3zM908.6 553.2h7.6l-3.8 -7.3zM911.2 557h7.6l-3.8 -7.3zM913.7 560.8h7.6l-3.8 -7.3zM916.3 564.1h7.6l-3.8 -7.3zM918.8 566.8h7.6l-3.8 -7.3zM921.4 569.7h7.6l-3.8 -7.3zM923.9 573.2h7.6l-3.8 -7.3zM926.5 576.1h7.6l-3.8 -7.3zM929 578.9h7.6l-3.8 -7.3zM931.6 580.8h7.6l-3.8 -7.3zM934.1 583.7h7.6l-3.8 -7.3zM936.7 586.1h7.6l-3.8 -7.3zM939.2 589h7.6l-3.8 -7.3zM941.8 592.6h7.6l-3.8 -7.3zM944.3 597.1h7.6l-3.8 -7.3zM946.9 601.3h7.6l-3.8 -7.3zM949.4 604.9h7.6l-3.8 -7.3zM952 606.9h7.6l-3.8 -7.3zM954.5 610.3h7.6l-3.8 -7.3zM957.1 615.4h7.6l-3.8 -7.3zM959.6 620.1h7.6l-3.8 -7.3zM962.2 621.1h7.6l-3.8 -7.3zM964.7 623.9h7.6l-3.8 -7.3zM967.3 626.1h7.6l-3.8 -7.3zM969.8 625.5h7.6l-3.8 -7.3zM972.4 623.3h7.6l-3.8 -7.3zM974.9 624.3h7.6l-3.8 -7.3zM977.5 625.2h7.6l-3.8 -7.3zM980 625.2h7.6l-3.8 -7.3zM982.6 623.9h7.6l-3.8 -7.3zM985.1 622.4h7.6l-3.8 -7.3zM987.7 622.6h7.6l-3.8 -7.3zM990.2 621.8h7.6l-3.8 -7.3zM992.8 622h7.6l-3.8 -7.3zM995.3 621.3h7.6l-3.8 -7.3zM997.9 622h7.6l-3.8 -7.3zM1000.4 616.4h7.6l-3.8 -7.3zM1003 600.7h7.6l-3.8 -7.3zM1005.5 592.1h7.6l-3.8 -7.3zM1008.1 580.4h7.6l-3.8 -7.3zM1010.6 556.9h7.6l-3.8 -7.3zM1013.2 528.9h7.6l-3.8 -7.3zM1015.7 501.7h7.6l-3.8 -7.3zM1018.3 495.5h7.6l-3.8 -7.3zM1020.8 496.7h7.6l-3.8 -7.3zM1023.4 498.2h7.6l-3.8 -7.3zM1025.9 488.7h7.6l-3.8 -7.3zM1028.5 491.9h7.6l-3.8 -7.3zM1031 495.9h7.6l-3.8 -7.3zM1033.6 492.5h7.6l-3.8 -7.3zM1036.1 490.7h7.6l-3.8 -7.3zM1038.7 490.6h7.6l-3.8 -7.3zM1041.2 501.6h7.6l-3.8 -7.3zM1043.8 502h7.6l-3.8 -7.3zM1046.3 495.8h7.6l-3.8 -7.3zM1048.9 493.3h7.6l-3.8 -7.3zM1051.4 500.4h7.6l-3.8 -7.3zM1054 512h7.6l-3.8 -7.3zM1056.5 532.9h7.6l-3.8 -7.3zM1059.1 570.2h7.6l-3.8 -7.3zM1061.6 579.5h7.6l-3.8 -7.3zM1064.2 587.8h7.6l-3.8 -7.3zM1066.7 600.3h7.6l-3.8 -7.3zM1069.3 607.2h7.6l-3.8 -7.3zM1071.8 616.3h7.6l-3.8 -7.3zM1074.4 619.7h7.6l-3.8 -7.3zM1076.9 623.2h7.6l-3.8 -7.3zM1079.5 624.1h7.6l-3.8 -7.3zM1082 625.9h7.6l-3.8 -7.3zM1084.6 623.2h7.6l-3.8 -7.3zM1087.1 623.1h7.6l-3.8 -7.3zM1089.7 625.6h7.6l-3.8 -7.3zM1092.2 622.8h7.6l-3.8 -7.3z" fill="#231815"/>
<path d="M804.5 623.6h7.6l-3.8 -7.3zM807 624.2h7.6l-3.8 -7.3zM809.6 623.6h7.6l-3.8 -7.3zM812.1 624.2h7.6l-3.8 -7.3zM814.7 626h7.6l-3.8 -7.3zM817.2 623.2h7.6l-3.8 -7.3zM819.8 625.8h7.6l-3.8 -7.3zM822.3 621.9h7.6l-3.8 -7.3zM824.9 621.4h7.6l-3.8 -7.3zM827.4 622.2h7.6l-3.8 -7.3zM830 619.1h7.6l-3.8 -7.3zM832.5 616.1h7.6l-3.8 -7.3zM835.1 604.2h7.6l-3.8 -7.3zM837.6 596.5h7.6l-3.8 -7.3zM840.2 586.7h7.6l-3.8 -7.3zM842.7 567h7.6l-3.8 -7.3zM845.3 557.5h7.6l-3.8 -7.3zM847.8 545.5h7.6l-3.8 -7.3zM850.4 536.9h7.6l-3.8 -7.3zM852.9 532.1h7.6l-3.8 -7.3zM855.5 528.5h7.6l-3.8 -7.3zM858 525.4h7.6l-3.8 -7.3zM860.6 522.2h7.6l-3.8 -7.3zM863.1 520.1h7.6l-3.8 -7.3zM865.7 519.5h7.6l-3.8 -7.3zM868.2 522.1h7.6l-3.8 -7.3zM870.8 533h7.6l-3.8 -7.3zM873.3 552h7.6l-3.8 -7.3zM875.9 567.6h7.6l-3.8 -7.3zM878.4 575.7h7.6l-3.8 -7.3zM881 581.8h7.6l-3.8 -7.3zM883.5 588h7.6l-3.8 -7.3zM886.1 594.9h7.6l-3.8 -7.3zM888.6 599.4h7.6l-3.8 -7.3zM891.2 604.6h7.6l-3.8 -7.3zM893.7 609.4h7.6l-3.8 -7.3zM896.3 616.7h7.6l-3.8 -7.3zM898.8 620.5h7.6l-3.8 -7.3zM901.4 621h7.6l-3.8 -7.3zM903.9 624.4h7.6l-3.8 -7.3zM906.5 624h7.6l-3.8 -7.3zM909 624.9h7.6l-3.8 -7.3zM911.6 623.8h7.6l-3.8 -7.3zM914.1 625.6h7.6l-3.8 -7.3zM916.7 624.2h7.6l-3.8 -7.3zM919.2 626h7.6l-3.8 -7.3zM921.8 623.4h7.6l-3.8 -7.3zM924.3 623.6h7.6l-3.8 -7.3zM926.9 623.7h7.6l-3.8 -7.3zM929.4 624.2h7.6l-3.8 -7.3zM932 625.7h7.6l-3.8 -7.3zM934.5 622.6h7.6l-3.8 -7.3zM937.1 624.3h7.6l-3.8 -7.3zM939.6 622.4h7.6l-3.8 -7.3zM942.2 623.4h7.6l-3.8 -7.3zM944.7 623h7.6l-3.8 -7.3zM947.3 622.4h7.6l-3.8 -7.3zM949.8 623.3h7.6l-3.8 -7.3zM952.4 622.6h7.6l-3.8 -7.3zM954.9 622.2h7.6l-3.8 -7.3zM957.5 623.2h7.6l-3.8 -7.3zM960 621.9h7.6l-3.8 -7.3zM962.6 624.3h7.6l-3.8 -7.3zM965.1 621.8h7.6l-3.8 -7.3zM967.7 624.3h7.6l-3.8 -7.3zM970.2 621.6h7.6l-3.8 -7.3zM972.8 624.4h7.6l-3.8 -7.3zM975.3 621.6h7.6l-3.8 -7.3zM977.9 621.6h7.6l-3.8 -7.3zM980.4 622.1h7.6l-3.8 -7.3zM983 624.4h7.6l-3.8 -7.3zM985.5 622.9h7.6l-3.8 -7.3zM988.1 623.1h7.6l-3.8 -7.3zM990.6 624.5h7.6l-3.8 -7.3zM993.2 621.9h7.6l-3.8 -7.3zM995.7 622.3h7.6l-3.8 -7.3zM998.3 620h7.6l-3.8 -7.3zM1000.8 617.2h7.6l-3.8 -7.3zM1003.4 601.7h7.6l-3.8 -7.3zM1005.9 579.3h7.6l-3.8 -7.3zM1008.5 563.7h7.6l-3.8 -7.3zM1011 545.6h7.6l-3.8 -7.3zM1013.6 530.6h7.6l-3.8 -7.3zM1016.1 514.6h7.6l-3.8 -7.3zM1018.7 509h7.6l-3.8 -7.3zM1021.2 506.5h7.6l-3.8 -7.3zM1023.8 503.8h7.6l-3.8 -7.3zM1026.3 502.7h7.6l-3.8 -7.3zM1028.9 501.9h7.6l-3.8 -7.3zM1031.4 501.7h7.6l-3.8 -7.3zM1034 500.2h7.6l-3.8 -7.3zM1036.5 499.5h7.6l-3.8 -7.3zM1039.1 498.1h7.6l-3.8 -7.3zM1041.6 496.6h7.6l-3.8 -7.3zM1044.2 496.8h7.6l-3.8 -7.3zM1046.7 496.9h7.6l-3.8 -7.3zM1049.3 496.1h7.6l-3.8 -7.3zM1051.8 495.7h7.6l-3.8 -7.3zM1054.4 496.6h7.6l-3.8 -7.3zM1056.9 501.4h7.6l-3.8 -7.3zM1059.5 513.5h7.6l-3.8 -7.3zM1062 536.2h7.6l-3.8 -7.3zM1064.6 552.8h7.6l-3.8 -7.3zM1067.1 571.7h7.6l-3.8 -7.3zM1069.7 589.5h7.6l-3.8 -7.3zM1072.2 597.3h7.6l-3.8 -7.3zM1074.8 604.6h7.6l-3.8 -7.3zM1077.3 608.3h7.6l-3.8 -7.3zM1079.9 612h7.6l-3.8 -7.3zM1082.4 615.1h7.6l-3.8 -7.3zM1085 620.1h7.6l-3.8 -7.3zM1087.5 621.9h7.6l-3.8 -7.3zM1090.1 623.7h7.6l-3.8 -7.3zM1092.6 625.7h7.6l-3.8 -7.3z" fill="#c4000f"/>
<path d="M1078 29.9h7.2l-3.6 -7.4z" fill="#231815"/>
<path d="M1078 66.5h7.2l-3.6 -7.4z" fill="#c4000f"/>
<text x="1096.4" y="35.4" font-size="30" textLength="146.6" lengthAdjust="spacingAndGlyphs">CDN1163(-)</text>
<text x="1096.4" y="73.8" font-size="30" textLength="152.4" lengthAdjust="spacingAndGlyphs">CDN1163(+)</text>
<rect x="981.1" y="675.3" width="98.6" height="5.4" fill="#000"/>
<text x="1029" y="699" font-size="18.5" text-anchor="middle" textLength="45.6" lengthAdjust="spacingAndGlyphs" fill="#000">200 s</text>
</g>
<g id="panelB">
<text x="189.8" y="762.4" font-size="32" textLength="188.4" lengthAdjust="spacingAndGlyphs">Glu response</text>
<rect x="309.3" y="790.9" width="35.4" height="12.9" fill="#e2e2e2" stroke="#231815" stroke-width="3" stroke-linejoin="round"/>
<rect x="309.3" y="818.7" width="35.4" height="13.2" fill="#a0a0a0" stroke="#231815" stroke-width="3" stroke-linejoin="round"/>
<text x="363.3" y="804.5" font-size="23" textLength="125.6" lengthAdjust="spacingAndGlyphs">CDN1163(-)</text>
<text x="363.3" y="832.6" font-size="21.5" textLength="117.8" lengthAdjust="spacingAndGlyphs">CDN1163(+)</text>
<path d="M143.6 855.1V852.7M139.2 852.7H148" stroke="#231815" stroke-width="3" stroke-linecap="round" fill="none"/>
<rect x="134.8" y="855.1" width="17.5" height="180.8" fill="#e3e3e3" stroke="#231815" stroke-width="3.1"/>
<path d="M161.1 862.5V857.7M156.7 857.7H165.5" stroke="#231815" stroke-width="3" stroke-linecap="round" fill="none"/>
<rect x="152.3" y="862.5" width="17.5" height="173.4" fill="#a0a0a0" stroke="#231815" stroke-width="3.1"/>
<path d="M196.8 857.1V852.7M192.4 852.7H201.2" stroke="#231815" stroke-width="3" stroke-linecap="round" fill="none"/>
<rect x="188.1" y="857.1" width="17.5" height="178.8" fill="#e3e3e3" stroke="#231815" stroke-width="3.1"/>
<path d="M214.3 862.5V857.1M209.9 857.1H218.8" stroke="#231815" stroke-width="3" stroke-linecap="round" fill="none"/>
<rect x="205.6" y="862.5" width="17.5" height="173.4" fill="#a0a0a0" stroke="#231815" stroke-width="3.1"/>
<path d="M250.2 938V925.2M245.8 925.2H254.7" stroke="#231815" stroke-width="3" stroke-linecap="round" fill="none"/>
<rect x="241.5" y="938" width="17.5" height="97.9" fill="#e3e3e3" stroke="#231815" stroke-width="3.1"/>
<path d="M267.8 886.8V877.6M263.4 877.6H272.1" stroke="#231815" stroke-width="3" stroke-linecap="round" fill="none"/>
<rect x="259" y="886.8" width="17.5" height="149.1" fill="#a0a0a0" stroke="#231815" stroke-width="3.1"/>
<path d="M303.6 934.1V922.9M299.2 922.9H307.9" stroke="#231815" stroke-width="3" stroke-linecap="round" fill="none"/>
<rect x="294.8" y="934.1" width="17.5" height="101.8" fill="#e3e3e3" stroke="#231815" stroke-width="3.1"/>
<path d="M321.1 897.1V892.4M316.7 892.4H325.4" stroke="#231815" stroke-width="3" stroke-linecap="round" fill="none"/>
<rect x="312.3" y="897.1" width="17.5" height="138.8" fill="#a0a0a0" stroke="#231815" stroke-width="3.1"/>
<path d="M356.9 942.4V927.9M352.5 927.9H361.2" stroke="#231815" stroke-width="3" stroke-linecap="round" fill="none"/>
<rect x="348.1" y="942.4" width="17.5" height="93.5" fill="#e3e3e3" stroke="#231815" stroke-width="3.1"/>
<path d="M374.4 936.5V926.4M370 926.4H378.8" stroke="#231815" stroke-width="3" stroke-linecap="round" fill="none"/>
<rect x="365.6" y="936.5" width="17.5" height="99.4" fill="#a0a0a0" stroke="#231815" stroke-width="3.1"/>
<path d="M410.1 932V922.3M405.8 922.3H414.5" stroke="#231815" stroke-width="3" stroke-linecap="round" fill="none"/>
<rect x="401.4" y="932" width="17.5" height="103.9" fill="#e3e3e3" stroke="#231815" stroke-width="3.1"/>
<path d="M427.6 889.7V881.4M423.2 881.4H432" stroke="#231815" stroke-width="3" stroke-linecap="round" fill="none"/>
<rect x="418.9" y="889.7" width="17.5" height="146.2" fill="#a0a0a0" stroke="#231815" stroke-width="3.1"/>
<path d="M126 821.8V1035.9" stroke="#231815" stroke-width="2.7" stroke-linecap="round" fill="none"/>
<path d="M116 1035.9H449.6" stroke="#231815" stroke-width="3.1" stroke-linecap="round" fill="none"/>
<path d="M116 857.2H126" stroke="#231815" stroke-width="2.8" fill="none"/>
<path d="M116 946.2H126" stroke="#231815" stroke-width="2.8" fill="none"/>
<text x="113.4" y="866.4" font-size="26" font-weight="bold" text-anchor="end" textLength="39.3" lengthAdjust="spacingAndGlyphs">100</text>
<text x="113.4" y="955.4" font-size="26" font-weight="bold" text-anchor="end" textLength="26.2" lengthAdjust="spacingAndGlyphs">50</text>
<text x="113.4" y="1045.1" font-size="26" font-weight="bold" text-anchor="end" textLength="13.1" lengthAdjust="spacingAndGlyphs">0</text>
<path d="M152.4 1035.9V1046" stroke="#231815" stroke-width="3" stroke-linecap="round" fill="none"/>
<path d="M205.7 1035.9V1046" stroke="#231815" stroke-width="3" stroke-linecap="round" fill="none"/>
<path d="M259 1035.9V1046" stroke="#231815" stroke-width="3" stroke-linecap="round" fill="none"/>
<path d="M312.3 1035.9V1046" stroke="#231815" stroke-width="3" stroke-linecap="round" fill="none"/>
<path d="M365.5 1035.9V1046" stroke="#231815" stroke-width="3" stroke-linecap="round" fill="none"/>
<path d="M418.8 1035.9V1046" stroke="#231815" stroke-width="3" stroke-linecap="round" fill="none"/>
<text x="161.7" y="1070.8" font-size="25.5" font-weight="bold" text-anchor="end" transform="rotate(-45 161.7 1070.8)">CON</text>
<text x="215" y="1070.8" font-size="25.5" font-weight="bold" text-anchor="end" transform="rotate(-45 215 1070.8)">WT</text>
<text x="268.3" y="1070.8" font-size="25.5" font-weight="bold" text-anchor="end" transform="rotate(-45 268.3 1070.8)">G23R</text>
<text x="321.6" y="1070.8" font-size="25.5" font-weight="bold" text-anchor="end" transform="rotate(-45 321.6 1070.8)">D567Y</text>
<text x="374.8" y="1070.8" font-size="25.5" font-weight="bold" text-anchor="end" transform="rotate(-45 374.8 1070.8)">G860S</text>
<text x="428.1" y="1070.8" font-size="25.5" font-weight="bold" text-anchor="end" transform="rotate(-45 428.1 1070.8)">I1014V</text>
<text x="58.2" y="1027.4" font-size="27" font-weight="bold" textLength="156.6" lengthAdjust="spacingAndGlyphs" transform="rotate(-90 58.2 1027.4)">Cell viability</text>
<text x="58.2" y="872.4" font-size="27.5" font-weight="bold" textLength="42.5" lengthAdjust="spacingAndGlyphs" transform="rotate(-90 58.2 872.4)">(%)</text>
<text x="161.6" y="836.7" font-size="16" text-anchor="middle" stroke="#231815" stroke-width="0.35">#</text>
<text x="214.9" y="838.2" font-size="16" text-anchor="middle" stroke="#231815" stroke-width="0.35">#</text>
<text x="376.2" y="909.2" font-size="16" text-anchor="middle" stroke="#231815" stroke-width="0.35">#</text>
<text x="268.7" y="865.7" font-size="24" text-anchor="middle">*</text>
<text x="322" y="877.2" font-size="24" text-anchor="middle">*</text>
<text x="428.6" y="871.6" font-size="24" text-anchor="middle">*</text>
</g>
<g id="panelC">
<defs><filter id="b1" x="-30%" y="-100%" width="160%" height="300%"><feGaussianBlur stdDeviation="2.2 1.7"/></filter><filter id="b2" x="-30%" y="-100%" width="160%" height="300%"><feGaussianBlur stdDeviation="2.4 2"/></filter><filter id="b3" x="-30%" y="-100%" width="160%" height="300%"><feGaussianBlur stdDeviation="1.3 0.9"/></filter><filter id="b4" x="-50%" y="-20%" width="200%" height="140%"><feGaussianBlur stdDeviation="3 2"/></filter><clipPath id="c1"><rect x="723" y="886.4" width="405.5" height="33.7"/></clipPath><clipPath id="c2"><rect x="722.2" y="924.2" width="406.3" height="33.7"/></clipPath><clipPath id="c3"><rect x="723" y="962.8" width="405.5" height="34"/></clipPath></defs>
<text x="587" y="880.8" font-size="23.5" textLength="102.3" lengthAdjust="spacingAndGlyphs" fill="#000" stroke="#000" stroke-width="0.3">CDN1163</text>
<path d="M722.4 854.2H785.8" stroke="#000" stroke-width="1.5" fill="none"/>
<text x="745.3" y="811.3" font-size="23.5" textLength="37.6" lengthAdjust="spacingAndGlyphs" transform="rotate(90 745.3 811.3)" fill="#000" stroke="#000" stroke-width="0.3">WT</text>
<path d="M804.8 854.2H868.2" stroke="#000" stroke-width="1.5" fill="none"/>
<text x="825.8" y="788.8" font-size="23.5" textLength="60.1" lengthAdjust="spacingAndGlyphs" transform="rotate(90 825.8 788.8)" fill="#000" stroke="#000" stroke-width="0.3">G23R</text>
<path d="M893.9 854.2H957.6" stroke="#000" stroke-width="1.5" fill="none"/>
<text x="913.6" y="777.7" font-size="23.5" textLength="71.1" lengthAdjust="spacingAndGlyphs" transform="rotate(90 913.6 777.7)" fill="#000" stroke="#000" stroke-width="0.3">D567Y</text>
<path d="M972.4 854.2H1036" stroke="#000" stroke-width="1.5" fill="none"/>
<text x="997.4" y="777.7" font-size="23.5" textLength="72" lengthAdjust="spacingAndGlyphs" transform="rotate(90 997.4 777.7)" fill="#000" stroke="#000" stroke-width="0.3">G860S</text>
<path d="M1057.6 854.2H1120.4" stroke="#000" stroke-width="1.5" fill="none"/>
<text x="1078.8" y="774.8" font-size="23.5" textLength="74" lengthAdjust="spacingAndGlyphs" transform="rotate(90 1078.8 774.8)" fill="#000" stroke="#000" stroke-width="0.3">I1014V</text>
<text x="728.7" y="882" font-size="25" text-anchor="middle" fill="#000" stroke="#000" stroke-width="0.5">-</text>
<text x="811.6" y="882" font-size="25" text-anchor="middle" fill="#000" stroke="#000" stroke-width="0.5">-</text>
<text x="900.7" y="882" font-size="25" text-anchor="middle" fill="#000" stroke="#000" stroke-width="0.5">-</text>
<text x="979.2" y="882" font-size="25" text-anchor="middle" fill="#000" stroke="#000" stroke-width="0.5">-</text>
<text x="1063.5" y="882" font-size="25" text-anchor="middle" fill="#000" stroke="#000" stroke-width="0.5">-</text>
<text x="777.6" y="883" font-size="22.5" text-anchor="middle" fill="#000" stroke="#000" stroke-width="0.45">+</text>
<text x="860" y="883" font-size="22.5" text-anchor="middle" fill="#000" stroke="#000" stroke-width="0.45">+</text>
<text x="949" y="883" font-size="22.5" text-anchor="middle" fill="#000" stroke="#000" stroke-width="0.45">+</text>
<text x="1028" y="883" font-size="22.5" text-anchor="middle" fill="#000" stroke="#000" stroke-width="0.45">+</text>
<text x="1112.4" y="883" font-size="22.5" text-anchor="middle" fill="#000" stroke="#000" stroke-width="0.45">+</text>
<text x="1136" y="911.8" font-size="23.5" textLength="55.5" lengthAdjust="spacingAndGlyphs" fill="#000" stroke="#000" stroke-width="0.3">ATF4</text>
<text x="1134.4" y="948.4" font-size="23.5" textLength="67" lengthAdjust="spacingAndGlyphs" fill="#000" stroke="#000" stroke-width="0.3">CHOP</text>
<text x="1136" y="984.8" font-size="23.5" textLength="51" lengthAdjust="spacingAndGlyphs" fill="#000" stroke="#000" stroke-width="0.3">Actin</text>
<g clip-path="url(#c1)"><rect x="720" y="884" width="412" height="40" fill="#dcdcdc"/>
<rect x="729.4" y="878" width="20" height="50" fill="#c4c4c4" opacity="0.6" filter="url(#b4)"/>
<rect x="763" y="878" width="20" height="50" fill="#c4c4c4" opacity="0.6" filter="url(#b4)"/>
<rect x="796.6" y="878" width="20" height="50" fill="#c4c4c4" opacity="0.6" filter="url(#b4)"/>
<rect x="830.2" y="878" width="20" height="50" fill="#c4c4c4" opacity="0.6" filter="url(#b4)"/>
<rect x="864.6" y="878" width="20" height="50" fill="#c4c4c4" opacity="0.6" filter="url(#b4)"/>
<rect x="898.2" y="878" width="20" height="50" fill="#c4c4c4" opacity="0.6" filter="url(#b4)"/>
<rect x="932.7" y="878" width="20" height="50" fill="#c4c4c4" opacity="0.6" filter="url(#b4)"/>
<rect x="967.1" y="878" width="20" height="50" fill="#c4c4c4" opacity="0.6" filter="url(#b4)"/>
<rect x="1000.7" y="878" width="20" height="50" fill="#c4c4c4" opacity="0.6" filter="url(#b4)"/>
<rect x="1034.3" y="878" width="20" height="50" fill="#c4c4c4" opacity="0.6" filter="url(#b4)"/>
<rect x="1067.1" y="878" width="20" height="50" fill="#c4c4c4" opacity="0.6" filter="url(#b4)"/>
<rect x="1100.7" y="878" width="20" height="50" fill="#c4c4c4" opacity="0.6" filter="url(#b4)"/>
<rect x="728.4" y="899.6" width="22" height="7.8" rx="6.8" ry="3.9" fill="#3c3c3c" opacity="0.66" filter="url(#b1)"/>
<rect x="763" y="898.8" width="20" height="7.8" rx="6.2" ry="3.9" fill="#3c3c3c" opacity="0.44" filter="url(#b1)"/>
<rect x="795.6" y="897.4" width="22" height="7.8" rx="6.8" ry="3.9" fill="#3c3c3c" opacity="0.72" filter="url(#b1)"/>
<rect x="830.2" y="897.9" width="20" height="7.8" rx="6.2" ry="3.9" fill="#3c3c3c" opacity="0.28" filter="url(#b1)"/>
<rect x="862.6" y="898.4" width="24" height="7.8" rx="7.4" ry="3.9" fill="#3c3c3c" opacity="0.7" filter="url(#b1)"/>
<rect x="897.2" y="898.4" width="22" height="7.8" rx="6.8" ry="3.9" fill="#3c3c3c" opacity="0.42" filter="url(#b1)"/>
<rect x="931.2" y="899.1" width="23" height="7.8" rx="7.1" ry="3.9" fill="#3c3c3c" opacity="0.72" filter="url(#b1)"/>
<rect x="967.6" y="898.4" width="19" height="7.8" rx="5.9" ry="3.9" fill="#3c3c3c" opacity="0.27" filter="url(#b1)"/>
<rect x="998.7" y="897.9" width="24" height="7.8" rx="7.4" ry="3.9" fill="#3c3c3c" opacity="0.76" filter="url(#b1)"/>
<rect x="1033.3" y="897.1" width="22" height="7.8" rx="6.8" ry="3.9" fill="#3c3c3c" opacity="0.72" filter="url(#b1)"/>
<rect x="1066.1" y="896.3" width="22" height="7.8" rx="6.8" ry="3.9" fill="#3c3c3c" opacity="0.64" filter="url(#b1)"/>
<rect x="1100.7" y="897.1" width="20" height="7.8" rx="6.2" ry="3.9" fill="#3c3c3c" opacity="0.34" filter="url(#b1)"/>
</g>
<g clip-path="url(#c2)"><rect x="720" y="922" width="412" height="40" fill="#e2e2e2"/>
<rect x="730.5" y="916" width="21" height="50" fill="#c2c2c2" opacity="0.65" filter="url(#b4)"/>
<rect x="765" y="916" width="21" height="50" fill="#c2c2c2" opacity="0.65" filter="url(#b4)"/>
<rect x="798.6" y="916" width="21" height="50" fill="#c2c2c2" opacity="0.65" filter="url(#b4)"/>
<rect x="832.2" y="916" width="21" height="50" fill="#c2c2c2" opacity="0.65" filter="url(#b4)"/>
<rect x="866.6" y="916" width="21" height="50" fill="#c2c2c2" opacity="0.65" filter="url(#b4)"/>
<rect x="901.1" y="916" width="21" height="50" fill="#c2c2c2" opacity="0.65" filter="url(#b4)"/>
<rect x="934.7" y="916" width="21" height="50" fill="#c2c2c2" opacity="0.65" filter="url(#b4)"/>
<rect x="969.1" y="916" width="21" height="50" fill="#c2c2c2" opacity="0.65" filter="url(#b4)"/>
<rect x="1002.7" y="916" width="21" height="50" fill="#c2c2c2" opacity="0.65" filter="url(#b4)"/>
<rect x="1036.3" y="916" width="21" height="50" fill="#c2c2c2" opacity="0.65" filter="url(#b4)"/>
<rect x="1069.9" y="916" width="21" height="50" fill="#c2c2c2" opacity="0.65" filter="url(#b4)"/>
<rect x="1104.4" y="916" width="21" height="50" fill="#c2c2c2" opacity="0.65" filter="url(#b4)"/>
<rect x="727.7" y="933.9" width="26.6" height="9.8" rx="8.2" ry="4.9" fill="#1e1e1e" opacity="0.72" filter="url(#b2)"/>
<rect x="763.2" y="933.1" width="24.6" height="9.8" rx="7.6" ry="4.9" fill="#1e1e1e" opacity="0.42" filter="url(#b2)"/>
<rect x="795.8" y="932.2" width="26.6" height="9.8" rx="8.2" ry="4.9" fill="#1e1e1e" opacity="0.88" filter="url(#b2)"/>
<rect x="800.6" y="949.2" width="17" height="4.8" rx="5.3" ry="2.4" fill="#555" opacity="0.2" filter="url(#b1)"/>
<rect x="830.9" y="933.1" width="23.6" height="9.8" rx="7.3" ry="4.9" fill="#1e1e1e" opacity="0.42" filter="url(#b2)"/>
<rect x="862.3" y="933.1" width="29.6" height="9.8" rx="9.2" ry="4.9" fill="#080808" opacity="1.0" filter="url(#b2)"/>
<rect x="865.6" y="934.8" width="23" height="6.4" rx="7.1" ry="3.2" fill="#000" opacity="0.95" filter="url(#b2)"/>
<rect x="868.6" y="950.1" width="17" height="4.8" rx="5.3" ry="2.4" fill="#555" opacity="0.3" filter="url(#b1)"/>
<rect x="898.8" y="934.7" width="25.6" height="9.8" rx="7.9" ry="4.9" fill="#1e1e1e" opacity="0.8" filter="url(#b2)"/>
<rect x="930.9" y="935.2" width="28.6" height="9.8" rx="8.9" ry="4.9" fill="#080808" opacity="0.97" filter="url(#b2)"/>
<rect x="934.2" y="936.9" width="22" height="6.4" rx="6.8" ry="3.2" fill="#000" opacity="0.95" filter="url(#b2)"/>
<rect x="936.7" y="952.2" width="17" height="4.8" rx="5.3" ry="2.4" fill="#555" opacity="0.18" filter="url(#b1)"/>
<rect x="967.3" y="934.7" width="24.6" height="9.8" rx="7.6" ry="4.9" fill="#1e1e1e" opacity="0.7" filter="url(#b2)"/>
<rect x="997.9" y="934.2" width="30.6" height="9.8" rx="9.5" ry="4.9" fill="#080808" opacity="1.0" filter="url(#b2)"/>
<rect x="1001.2" y="935.9" width="24" height="6.4" rx="7.4" ry="3.2" fill="#000" opacity="0.95" filter="url(#b2)"/>
<rect x="1004.7" y="951.2" width="17" height="4.8" rx="5.3" ry="2.4" fill="#555" opacity="0.25" filter="url(#b1)"/>
<rect x="1034" y="933.9" width="25.6" height="9.8" rx="7.9" ry="4.9" fill="#1e1e1e" opacity="0.78" filter="url(#b2)"/>
<rect x="1038.3" y="950.9" width="17" height="4.8" rx="5.3" ry="2.4" fill="#555" opacity="0.12" filter="url(#b1)"/>
<rect x="1066.6" y="933.1" width="27.6" height="9.8" rx="8.6" ry="4.9" fill="#080808" opacity="0.95" filter="url(#b2)"/>
<rect x="1069.9" y="934.8" width="21" height="6.4" rx="6.5" ry="3.2" fill="#000" opacity="0.95" filter="url(#b2)"/>
<rect x="1071.9" y="950.1" width="17" height="4.8" rx="5.3" ry="2.4" fill="#555" opacity="0.18" filter="url(#b1)"/>
<rect x="1101.6" y="933.9" width="26.6" height="9.8" rx="8.2" ry="4.9" fill="#1e1e1e" opacity="0.78" filter="url(#b2)"/>
<rect x="1106.4" y="950.9" width="17" height="4.8" rx="5.3" ry="2.4" fill="#555" opacity="0.1" filter="url(#b1)"/>
</g>
<g clip-path="url(#c3)"><rect x="720" y="960" width="412" height="40" fill="#dadada"/>
<rect x="722.1" y="975.2" width="29.3" height="7.7" rx="9.1" ry="3.9" fill="#000" opacity="1" filter="url(#b3)"/>
<rect x="726.4" y="976.2" width="20.7" height="5.7" rx="2.9" fill="#000"/>
<rect x="758.3" y="974.2" width="27.6" height="9.2" rx="8.6" ry="4.6" fill="#000" opacity="1" filter="url(#b3)"/>
<rect x="762.6" y="975.2" width="19" height="7.2" rx="3.6" fill="#000"/>
<rect x="793.1" y="974.5" width="27.1" height="9.2" rx="8.4" ry="4.6" fill="#000" opacity="1" filter="url(#b3)"/>
<rect x="797.4" y="975.5" width="18.5" height="7.2" rx="3.6" fill="#000"/>
<rect x="825.9" y="976.7" width="28.6" height="7" rx="8.9" ry="3.5" fill="#000" opacity="1" filter="url(#b3)"/>
<rect x="830.2" y="977.7" width="20" height="5" rx="2.5" fill="#000"/>
<rect x="861.1" y="977.5" width="27.1" height="5.4" rx="8.4" ry="2.7" fill="#000" opacity="1" filter="url(#b3)"/>
<rect x="865.4" y="978.5" width="18.5" height="3.4" rx="1.7" fill="#000"/>
<rect x="894.4" y="977.1" width="27.6" height="6.2" rx="8.6" ry="3.1" fill="#000" opacity="1" filter="url(#b3)"/>
<rect x="898.7" y="978.1" width="19" height="4.2" rx="2.1" fill="#000"/>
<rect x="928.2" y="977.1" width="29.1" height="7" rx="9" ry="3.5" fill="#000" opacity="1" filter="url(#b3)"/>
<rect x="932.5" y="978.1" width="20.5" height="5" rx="2.5" fill="#000"/>
<rect x="963.3" y="978.2" width="27.6" height="6.2" rx="8.6" ry="3.1" fill="#000" opacity="1" filter="url(#b3)"/>
<rect x="967.6" y="979.2" width="19" height="4.2" rx="2.1" fill="#000"/>
<rect x="996.2" y="977.9" width="29.1" height="6.2" rx="9" ry="3.1" fill="#000" opacity="1" filter="url(#b3)"/>
<rect x="1000.5" y="978.9" width="20.5" height="4.2" rx="2.1" fill="#000"/>
<rect x="1031.7" y="977.5" width="28.6" height="6.6" rx="8.9" ry="3.3" fill="#000" opacity="1" filter="url(#b3)"/>
<rect x="1036" y="978.5" width="20" height="4.6" rx="2.3" fill="#000"/>
<rect x="1065.3" y="977.4" width="28.6" height="7.2" rx="8.9" ry="3.6" fill="#000" opacity="1" filter="url(#b3)"/>
<rect x="1069.6" y="978.4" width="20" height="5.2" rx="2.6" fill="#000"/>
<rect x="1100.1" y="978.4" width="29.6" height="6.2" rx="9.2" ry="3.1" fill="#000" opacity="1" filter="url(#b3)"/>
<rect x="1104.4" y="979.4" width="21" height="4.2" rx="2.1" fill="#000"/>
</g>
</g>
</svg></body></html>
